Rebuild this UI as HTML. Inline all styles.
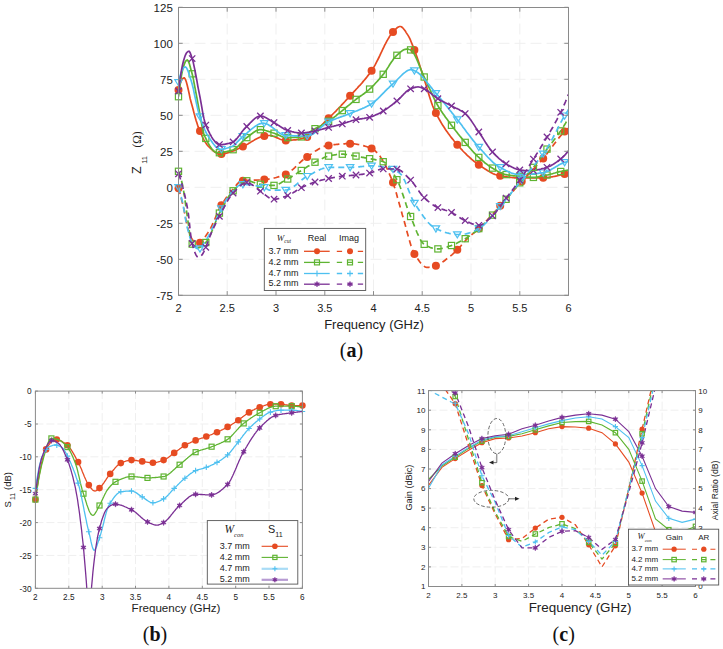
<!DOCTYPE html>
<html><head><meta charset="utf-8"><title>Figure</title>
<style>html,body{margin:0;padding:0;background:#fff;}svg{display:block;}</style>
</head><body>
<svg width="723" height="649" viewBox="0 0 723 649">
<defs>
<clipPath id="clipa"><rect x="178.5" y="7.5" width="390.0" height="287.8"/></clipPath>
<clipPath id="clipb"><rect x="35.4" y="391.1" width="267.0" height="197.19999999999993"/></clipPath>
<clipPath id="clipc"><rect x="428.5" y="390.6" width="267.0" height="195.89999999999998"/></clipPath>
</defs>
<g id="pa">
<line x1="227.2" y1="7.5" x2="227.2" y2="295.3" stroke="#efefef" stroke-width="1" stroke-dasharray="11,5"/>
<line x1="276" y1="7.5" x2="276" y2="295.3" stroke="#efefef" stroke-width="1" stroke-dasharray="11,5"/>
<line x1="324.8" y1="7.5" x2="324.8" y2="295.3" stroke="#efefef" stroke-width="1" stroke-dasharray="11,5"/>
<line x1="373.5" y1="7.5" x2="373.5" y2="295.3" stroke="#efefef" stroke-width="1" stroke-dasharray="11,5"/>
<line x1="422.2" y1="7.5" x2="422.2" y2="295.3" stroke="#efefef" stroke-width="1" stroke-dasharray="11,5"/>
<line x1="471" y1="7.5" x2="471" y2="295.3" stroke="#efefef" stroke-width="1" stroke-dasharray="11,5"/>
<line x1="519.8" y1="7.5" x2="519.8" y2="295.3" stroke="#efefef" stroke-width="1" stroke-dasharray="11,5"/>
<line x1="178.5" y1="43.3" x2="568.5" y2="43.3" stroke="#efefef" stroke-width="1" stroke-dasharray="11,5"/>
<line x1="178.5" y1="79.3" x2="568.5" y2="79.3" stroke="#efefef" stroke-width="1" stroke-dasharray="11,5"/>
<line x1="178.5" y1="115.3" x2="568.5" y2="115.3" stroke="#efefef" stroke-width="1" stroke-dasharray="11,5"/>
<line x1="178.5" y1="151.3" x2="568.5" y2="151.3" stroke="#efefef" stroke-width="1" stroke-dasharray="11,5"/>
<line x1="178.5" y1="187.3" x2="568.5" y2="187.3" stroke="#efefef" stroke-width="1" stroke-dasharray="11,5"/>
<line x1="178.5" y1="223.3" x2="568.5" y2="223.3" stroke="#efefef" stroke-width="1" stroke-dasharray="11,5"/>
<line x1="178.5" y1="259.3" x2="568.5" y2="259.3" stroke="#efefef" stroke-width="1" stroke-dasharray="11,5"/>
<path clip-path="url(#clipa)" d="M178.5,90.1 L179.5,86 L180.5,82.8 L181.4,80.5 L182.4,78.9 L183.4,78.1 L184.4,77.9 L185.3,79.1 L186.3,81.8 L187.3,85.5 L188.3,89.8 L189.3,94.3 L190.2,98.7 L191.2,102.5 L192.2,106 L193.2,109.7 L194.1,113.4 L195.1,117 L196.1,120.5 L197.1,123.6 L198,126.4 L199,128.9 L200,131.3 L201,133.6 L202,135.8 L202.9,137.9 L203.9,139.8 L204.9,141.6 L205.9,143.1 L206.8,144.5 L207.8,145.6 L208.8,146.6 L209.8,147.6 L210.8,148.6 L211.7,149.5 L212.7,150.4 L213.7,151.2 L214.7,151.9 L215.6,152.6 L216.6,153.1 L217.6,153.6 L218.6,153.9 L219.6,154.1 L220.5,154.2 L221.5,154.1 L222.5,154 L223.5,153.9 L224.4,153.7 L225.4,153.4 L226.4,153.2 L227.4,152.9 L228.3,152.6 L229.3,152.2 L230.3,151.9 L231.3,151.6 L232.3,151.3 L233.2,150.9 L234.2,150.6 L235.2,150.1 L236.2,149.7 L237.1,149.3 L238.1,148.8 L239.1,148.3 L240.1,147.9 L241.1,147.4 L242,146.9 L243,146.5 L244,146 L245,145.5 L245.9,145 L246.9,144.4 L247.9,143.9 L248.9,143.3 L249.9,142.7 L250.8,142.1 L251.8,141.5 L252.8,141 L253.8,140.4 L254.7,139.8 L255.7,139.3 L256.7,138.8 L257.7,138.3 L258.7,137.8 L259.6,137.4 L260.6,137 L261.6,136.7 L262.6,136.4 L263.5,136.2 L264.5,136 L265.5,135.8 L266.5,135.7 L267.4,135.6 L268.4,135.5 L269.4,135.5 L270.4,135.5 L271.4,135.7 L272.3,135.9 L273.3,136.3 L274.3,136.6 L275.3,137 L276.2,137.4 L277.2,137.9 L278.2,138.3 L279.2,138.8 L280.2,139.2 L281.1,139.5 L282.1,139.8 L283.1,140.1 L284.1,140.3 L285,140.4 L286,140.4 L287,140.3 L288,140.3 L289,140.3 L289.9,140.2 L290.9,140.2 L291.9,140.1 L292.9,140 L293.8,139.9 L294.8,139.8 L295.8,139.8 L296.8,139.6 L297.7,139.5 L298.7,139.3 L299.7,139.1 L300.7,138.9 L301.7,138.7 L302.6,138.4 L303.6,138.1 L304.6,137.8 L305.6,137.5 L306.5,137.2 L307.5,136.8 L308.5,136.4 L309.5,135.9 L310.5,135.3 L311.4,134.6 L312.4,133.9 L313.4,133.2 L314.4,132.4 L315.3,131.5 L316.3,130.6 L317.3,129.7 L318.3,128.7 L319.3,127.8 L320.2,126.8 L321.2,125.8 L322.2,124.7 L323.2,123.7 L324.1,122.7 L325.1,121.7 L326.1,120.7 L327.1,119.7 L328,118.8 L329,117.8 L330,116.9 L331,115.9 L332,115 L332.9,114 L333.9,113 L334.9,112 L335.9,111.1 L336.8,110 L337.8,109 L338.8,108 L339.8,107 L340.8,106 L341.7,104.9 L342.7,103.9 L343.7,102.8 L344.7,101.8 L345.6,100.7 L346.6,99.6 L347.6,98.6 L348.6,97.5 L349.6,96.4 L350.5,95.4 L351.5,94.3 L352.5,93.2 L353.5,92.2 L354.4,91.1 L355.4,90.1 L356.4,89 L357.4,88 L358.3,86.9 L359.3,85.8 L360.3,84.8 L361.3,83.7 L362.3,82.6 L363.2,81.4 L364.2,80.3 L365.2,79.1 L366.2,77.9 L367.1,76.7 L368.1,75.4 L369.1,74.2 L370.1,72.9 L371.1,71.5 L372,70.1 L373,68.6 L374,66.9 L375,65.2 L375.9,63.4 L376.9,61.4 L377.9,59.5 L378.9,57.5 L379.9,55.4 L380.8,53.3 L381.8,51.3 L382.8,49.2 L383.8,47.2 L384.7,45.2 L385.7,43.3 L386.7,41.4 L387.7,39.6 L388.7,38 L389.6,36.4 L390.6,34.9 L391.6,33.7 L392.6,32.5 L393.5,31.5 L394.5,30.4 L395.5,29.3 L396.5,28.3 L397.4,27.5 L398.4,26.9 L399.4,26.5 L400.4,26.5 L401.4,26.8 L402.3,27.5 L403.3,28.5 L404.3,29.8 L405.3,31.1 L406.2,32.6 L407.2,34.1 L408.2,35.6 L409.2,37.4 L410.2,39.4 L411.1,41.7 L412.1,44.1 L413.1,46.6 L414.1,49.1 L415,51.6 L416,54.3 L417,57.1 L418,60 L419,63 L419.9,66 L420.9,69.1 L421.9,72.1 L422.9,75.2 L423.8,78.2 L424.8,81.2 L425.8,84.3 L426.8,87.5 L427.7,90.8 L428.7,94.1 L429.7,97.2 L430.7,100.3 L431.7,103.2 L432.6,105.8 L433.6,108.2 L434.6,110.3 L435.6,112.3 L436.5,114.3 L437.5,116.2 L438.5,118 L439.5,119.8 L440.5,121.5 L441.4,123.1 L442.4,124.8 L443.4,126.3 L444.4,127.8 L445.3,129.3 L446.3,130.7 L447.3,132.1 L448.3,133.5 L449.3,134.8 L450.2,136.1 L451.2,137.4 L452.2,138.6 L453.2,139.8 L454.1,141 L455.1,142.2 L456.1,143.3 L457.1,144.5 L458,145.6 L459,146.7 L460,147.8 L461,148.9 L462,149.9 L462.9,151 L463.9,152 L464.9,153 L465.9,153.9 L466.8,154.9 L467.8,155.8 L468.8,156.7 L469.8,157.6 L470.8,158.5 L471.7,159.3 L472.7,160.2 L473.7,161 L474.7,161.7 L475.6,162.5 L476.6,163.2 L477.6,163.9 L478.6,164.6 L479.6,165.3 L480.5,165.9 L481.5,166.6 L482.5,167.3 L483.5,167.9 L484.4,168.6 L485.4,169.2 L486.4,169.8 L487.4,170.5 L488.3,171.1 L489.3,171.6 L490.3,172.2 L491.3,172.7 L492.3,173.2 L493.2,173.7 L494.2,174.1 L495.2,174.5 L496.2,174.8 L497.1,175.1 L498.1,175.4 L499.1,175.6 L500.1,175.8 L501.1,176 L502,176.1 L503,176.3 L504,176.5 L505,176.6 L505.9,176.8 L506.9,176.9 L507.9,177.1 L508.9,177.2 L509.9,177.3 L510.8,177.4 L511.8,177.5 L512.8,177.6 L513.8,177.7 L514.7,177.8 L515.7,177.8 L516.7,177.9 L517.7,177.9 L518.7,177.9 L519.6,177.9 L520.6,177.9 L521.6,177.9 L522.6,177.9 L523.5,177.9 L524.5,177.9 L525.5,177.9 L526.5,177.9 L527.4,177.9 L528.4,177.9 L529.4,177.9 L530.4,177.9 L531.4,177.9 L532.3,177.9 L533.3,177.9 L534.3,177.9 L535.3,177.9 L536.2,177.9 L537.2,177.9 L538.2,177.8 L539.2,177.8 L540.2,177.8 L541.1,177.8 L542.1,177.8 L543.1,177.8 L544.1,177.8 L545,177.7 L546,177.6 L547,177.5 L548,177.4 L549,177.3 L549.9,177.2 L550.9,177 L551.9,176.8 L552.9,176.7 L553.8,176.5 L554.8,176.3 L555.8,176.1 L556.8,175.9 L557.7,175.6 L558.7,175.4 L559.7,175.2 L560.7,175 L561.7,174.7 L562.6,174.5 L563.6,174.3 L564.6,174 L565.6,173.8 L566.5,173.5 L567.5,173.2 L568.5,172.9" fill="none" stroke="#E64B22" stroke-width="1.7"/>
<circle cx="178.5" cy="90.1" r="4" fill="#E64B22" stroke="none"/>
<circle cx="200" cy="131.1" r="4" fill="#E64B22" stroke="none"/>
<circle cx="221.4" cy="154.1" r="4" fill="#E64B22" stroke="none"/>
<circle cx="242.9" cy="146.5" r="4" fill="#E64B22" stroke="none"/>
<circle cx="264.3" cy="136" r="4" fill="#E64B22" stroke="none"/>
<circle cx="285.8" cy="140.4" r="4" fill="#E64B22" stroke="none"/>
<circle cx="307.2" cy="136.9" r="4" fill="#E64B22" stroke="none"/>
<circle cx="328.6" cy="118.2" r="4" fill="#E64B22" stroke="none"/>
<circle cx="350.1" cy="95.8" r="4" fill="#E64B22" stroke="none"/>
<circle cx="371.6" cy="70.8" r="4" fill="#E64B22" stroke="none"/>
<circle cx="393" cy="32" r="4" fill="#E64B22" stroke="none"/>
<circle cx="414.4" cy="50.1" r="4" fill="#E64B22" stroke="none"/>
<circle cx="435.9" cy="113" r="4" fill="#E64B22" stroke="none"/>
<circle cx="457.3" cy="144.8" r="4" fill="#E64B22" stroke="none"/>
<circle cx="478.8" cy="164.7" r="4" fill="#E64B22" stroke="none"/>
<circle cx="500.2" cy="175.8" r="4" fill="#E64B22" stroke="none"/>
<circle cx="521.7" cy="177.9" r="4" fill="#E64B22" stroke="none"/>
<circle cx="543.2" cy="177.8" r="4" fill="#E64B22" stroke="none"/>
<circle cx="564.6" cy="174" r="4" fill="#E64B22" stroke="none"/>
<path clip-path="url(#clipa)" d="M178.5,96.7 L179.5,88.7 L180.5,81.7 L181.4,75.8 L182.4,70.9 L183.4,66.9 L184.4,63.9 L185.3,61.8 L186.3,60.5 L187.3,60.1 L188.3,61.1 L189.3,63.6 L190.2,66.8 L191.2,70.4 L192.2,74 L193.2,78.2 L194.1,83.1 L195.1,88.3 L196.1,93.7 L197.1,99 L198,104 L199,109.2 L200,114.8 L201,120.5 L202,125.8 L202.9,130.5 L203.9,134.1 L204.9,136.5 L205.9,138.6 L206.8,140.6 L207.8,142.5 L208.8,144.3 L209.8,145.9 L210.8,147.4 L211.7,148.8 L212.7,150 L213.7,150.9 L214.7,151.7 L215.6,152.3 L216.6,152.6 L217.6,152.7 L218.6,152.7 L219.6,152.7 L220.5,152.6 L221.5,152.5 L222.5,152.4 L223.5,152.2 L224.4,152 L225.4,151.8 L226.4,151.6 L227.4,151.4 L228.3,151.1 L229.3,150.9 L230.3,150.6 L231.3,150.3 L232.3,150 L233.2,149.7 L234.2,149.2 L235.2,148.6 L236.2,147.8 L237.1,147 L238.1,146.1 L239.1,145.1 L240.1,144 L241.1,143 L242,142 L243,140.9 L244,140 L245,139 L245.9,138.2 L246.9,137.5 L247.9,136.8 L248.9,136 L249.9,135.3 L250.8,134.5 L251.8,133.8 L252.8,133 L253.8,132.3 L254.7,131.7 L255.7,131.1 L256.7,130.6 L257.7,130.2 L258.7,129.9 L259.6,129.7 L260.6,129.7 L261.6,129.7 L262.6,129.9 L263.5,130 L264.5,130.2 L265.5,130.5 L266.5,130.7 L267.4,131.1 L268.4,131.4 L269.4,131.7 L270.4,132 L271.4,132.4 L272.3,132.7 L273.3,133 L274.3,133.3 L275.3,133.7 L276.2,134.1 L277.2,134.5 L278.2,134.9 L279.2,135.4 L280.2,135.8 L281.1,136.3 L282.1,136.6 L283.1,137 L284.1,137.3 L285,137.5 L286,137.6 L287,137.6 L288,137.6 L289,137.6 L289.9,137.6 L290.9,137.6 L291.9,137.5 L292.9,137.5 L293.8,137.5 L294.8,137.4 L295.8,137.4 L296.8,137.3 L297.7,137.2 L298.7,137.2 L299.7,137.1 L300.7,137 L301.7,136.8 L302.6,136.5 L303.6,136.1 L304.6,135.6 L305.6,135.1 L306.5,134.4 L307.5,133.8 L308.5,133.1 L309.5,132.3 L310.5,131.6 L311.4,130.9 L312.4,130.3 L313.4,129.6 L314.4,129.1 L315.3,128.5 L316.3,128 L317.3,127.5 L318.3,127 L319.3,126.5 L320.2,126 L321.2,125.5 L322.2,124.9 L323.2,124.4 L324.1,123.9 L325.1,123.3 L326.1,122.8 L327.1,122.2 L328,121.6 L329,121 L330,120.3 L331,119.6 L332,118.9 L332.9,118.2 L333.9,117.4 L334.9,116.6 L335.9,115.8 L336.8,115 L337.8,114.2 L338.8,113.4 L339.8,112.6 L340.8,111.8 L341.7,111.1 L342.7,110.3 L343.7,109.5 L344.7,108.7 L345.6,107.9 L346.6,107 L347.6,106.2 L348.6,105.4 L349.6,104.6 L350.5,103.8 L351.5,102.9 L352.5,102.1 L353.5,101.3 L354.4,100.6 L355.4,99.8 L356.4,99 L357.4,98.3 L358.3,97.6 L359.3,96.9 L360.3,96.2 L361.3,95.5 L362.3,94.9 L363.2,94.2 L364.2,93.5 L365.2,92.7 L366.2,92 L367.1,91.2 L368.1,90.4 L369.1,89.6 L370.1,88.7 L371.1,87.8 L372,86.8 L373,85.9 L374,84.9 L375,83.8 L375.9,82.8 L376.9,81.7 L377.9,80.6 L378.9,79.5 L379.9,78.4 L380.8,77.2 L381.8,76.1 L382.8,74.9 L383.8,73.7 L384.7,72.3 L385.7,70.9 L386.7,69.5 L387.7,67.9 L388.7,66.4 L389.6,64.8 L390.6,63.3 L391.6,61.8 L392.6,60.4 L393.5,59 L394.5,57.8 L395.5,56.6 L396.5,55.6 L397.4,54.8 L398.4,53.9 L399.4,53.1 L400.4,52.2 L401.4,51.4 L402.3,50.7 L403.3,50.1 L404.3,49.6 L405.3,49.3 L406.2,49.1 L407.2,49.1 L408.2,49.2 L409.2,49.5 L410.2,49.7 L411.1,50.2 L412.1,51.1 L413.1,52.3 L414.1,53.9 L415,55.7 L416,57.7 L417,59.9 L418,62.2 L419,64.6 L419.9,67 L420.9,69.4 L421.9,71.8 L422.9,74.1 L423.8,76.2 L424.8,78.3 L425.8,80.3 L426.8,82.4 L427.7,84.6 L428.7,86.8 L429.7,89 L430.7,91.1 L431.7,93.3 L432.6,95.4 L433.6,97.5 L434.6,99.5 L435.6,101.5 L436.5,103.3 L437.5,105 L438.5,106.7 L439.5,108.3 L440.5,109.8 L441.4,111.3 L442.4,112.8 L443.4,114.2 L444.4,115.6 L445.3,117 L446.3,118.3 L447.3,119.6 L448.3,120.9 L449.3,122.3 L450.2,123.6 L451.2,124.9 L452.2,126.2 L453.2,127.5 L454.1,128.8 L455.1,130 L456.1,131.3 L457.1,132.5 L458,133.8 L459,135 L460,136.2 L461,137.4 L462,138.6 L462.9,139.7 L463.9,140.9 L464.9,142.1 L465.9,143.2 L466.8,144.4 L467.8,145.6 L468.8,146.7 L469.8,147.9 L470.8,149 L471.7,150.1 L472.7,151.2 L473.7,152.3 L474.7,153.3 L475.6,154.3 L476.6,155.3 L477.6,156.3 L478.6,157.2 L479.6,158.1 L480.5,159 L481.5,159.8 L482.5,160.7 L483.5,161.5 L484.4,162.4 L485.4,163.2 L486.4,163.9 L487.4,164.7 L488.3,165.4 L489.3,166.1 L490.3,166.8 L491.3,167.4 L492.3,168 L493.2,168.6 L494.2,169.2 L495.2,169.8 L496.2,170.3 L497.1,170.9 L498.1,171.5 L499.1,172 L500.1,172.5 L501.1,172.9 L502,173.3 L503,173.7 L504,174.1 L505,174.4 L505.9,174.6 L506.9,174.8 L507.9,175 L508.9,175.1 L509.9,175.3 L510.8,175.4 L511.8,175.5 L512.8,175.7 L513.8,175.8 L514.7,175.9 L515.7,176 L516.7,176.1 L517.7,176.2 L518.7,176.3 L519.6,176.3 L520.6,176.4 L521.6,176.5 L522.6,176.6 L523.5,176.7 L524.5,176.8 L525.5,176.9 L526.5,177 L527.4,177.1 L528.4,177.2 L529.4,177.2 L530.4,177.3 L531.4,177.3 L532.3,177.4 L533.3,177.4 L534.3,177.3 L535.3,177.3 L536.2,177.2 L537.2,177.1 L538.2,176.9 L539.2,176.7 L540.2,176.5 L541.1,176.3 L542.1,176.1 L543.1,175.9 L544.1,175.6 L545,175.4 L546,175.2 L547,175 L548,174.8 L549,174.5 L549.9,174.3 L550.9,174 L551.9,173.8 L552.9,173.5 L553.8,173.2 L554.8,173 L555.8,172.7 L556.8,172.4 L557.7,172.2 L558.7,171.9 L559.7,171.7 L560.7,171.5 L561.7,171.3 L562.6,171.1 L563.6,170.9 L564.6,170.7 L565.6,170.5 L566.5,170.3 L567.5,170.2 L568.5,170" fill="none" stroke="#5FB432" stroke-width="1.7"/>
<rect x="175.4" y="93.6" width="6.2" height="6.2" fill="none" stroke="#5FB432" stroke-width="1.2"/>
<rect x="189.1" y="70.7" width="6.2" height="6.2" fill="none" stroke="#5FB432" stroke-width="1.2"/>
<rect x="202.7" y="135.3" width="6.2" height="6.2" fill="none" stroke="#5FB432" stroke-width="1.2"/>
<rect x="216.3" y="149.6" width="6.2" height="6.2" fill="none" stroke="#5FB432" stroke-width="1.2"/>
<rect x="230" y="146.6" width="6.2" height="6.2" fill="none" stroke="#5FB432" stroke-width="1.2"/>
<rect x="243.7" y="134.5" width="6.2" height="6.2" fill="none" stroke="#5FB432" stroke-width="1.2"/>
<rect x="257.3" y="126.6" width="6.2" height="6.2" fill="none" stroke="#5FB432" stroke-width="1.2"/>
<rect x="270.9" y="130.1" width="6.2" height="6.2" fill="none" stroke="#5FB432" stroke-width="1.2"/>
<rect x="284.6" y="134.5" width="6.2" height="6.2" fill="none" stroke="#5FB432" stroke-width="1.2"/>
<rect x="298.2" y="133.8" width="6.2" height="6.2" fill="none" stroke="#5FB432" stroke-width="1.2"/>
<rect x="311.9" y="125.6" width="6.2" height="6.2" fill="none" stroke="#5FB432" stroke-width="1.2"/>
<rect x="325.5" y="118.1" width="6.2" height="6.2" fill="none" stroke="#5FB432" stroke-width="1.2"/>
<rect x="339.2" y="107.5" width="6.2" height="6.2" fill="none" stroke="#5FB432" stroke-width="1.2"/>
<rect x="352.9" y="96.3" width="6.2" height="6.2" fill="none" stroke="#5FB432" stroke-width="1.2"/>
<rect x="366.5" y="86" width="6.2" height="6.2" fill="none" stroke="#5FB432" stroke-width="1.2"/>
<rect x="380.1" y="71.2" width="6.2" height="6.2" fill="none" stroke="#5FB432" stroke-width="1.2"/>
<rect x="393.8" y="52.2" width="6.2" height="6.2" fill="none" stroke="#5FB432" stroke-width="1.2"/>
<rect x="407.5" y="46.8" width="6.2" height="6.2" fill="none" stroke="#5FB432" stroke-width="1.2"/>
<rect x="421.1" y="73.9" width="6.2" height="6.2" fill="none" stroke="#5FB432" stroke-width="1.2"/>
<rect x="434.8" y="102.5" width="6.2" height="6.2" fill="none" stroke="#5FB432" stroke-width="1.2"/>
<rect x="448.4" y="122.2" width="6.2" height="6.2" fill="none" stroke="#5FB432" stroke-width="1.2"/>
<rect x="462.1" y="139.3" width="6.2" height="6.2" fill="none" stroke="#5FB432" stroke-width="1.2"/>
<rect x="475.7" y="154.3" width="6.2" height="6.2" fill="none" stroke="#5FB432" stroke-width="1.2"/>
<rect x="489.4" y="165" width="6.2" height="6.2" fill="none" stroke="#5FB432" stroke-width="1.2"/>
<rect x="503" y="171.5" width="6.2" height="6.2" fill="none" stroke="#5FB432" stroke-width="1.2"/>
<rect x="516.6" y="173.3" width="6.2" height="6.2" fill="none" stroke="#5FB432" stroke-width="1.2"/>
<rect x="530.3" y="174.3" width="6.2" height="6.2" fill="none" stroke="#5FB432" stroke-width="1.2"/>
<rect x="543.9" y="171.9" width="6.2" height="6.2" fill="none" stroke="#5FB432" stroke-width="1.2"/>
<rect x="557.6" y="168.4" width="6.2" height="6.2" fill="none" stroke="#5FB432" stroke-width="1.2"/>
<path clip-path="url(#clipa)" d="M178.5,82.5 L179.5,78.2 L180.5,74.6 L181.4,71.8 L182.4,69.6 L183.4,68.1 L184.4,67.2 L185.3,66.9 L186.3,67.6 L187.3,69.3 L188.3,71.7 L189.3,74.7 L190.2,77.8 L191.2,80.8 L192.2,84.2 L193.2,88.2 L194.1,92.6 L195.1,97.2 L196.1,101.8 L197.1,106.3 L198,110.3 L199,113.7 L200,116.8 L201,119.7 L202,122.5 L202.9,125.2 L203.9,127.6 L204.9,130 L205.9,132.1 L206.8,133.9 L207.8,135.6 L208.8,137.1 L209.8,138.6 L210.8,140.1 L211.7,141.6 L212.7,143 L213.7,144.3 L214.7,145.5 L215.6,146.6 L216.6,147.5 L217.6,148.3 L218.6,148.8 L219.6,149.2 L220.5,149.3 L221.5,149.2 L222.5,149.2 L223.5,149 L224.4,148.8 L225.4,148.6 L226.4,148.3 L227.4,148 L228.3,147.7 L229.3,147.4 L230.3,147 L231.3,146.6 L232.3,146.2 L233.2,145.7 L234.2,145 L235.2,144.2 L236.2,143.2 L237.1,142.2 L238.1,141.2 L239.1,140.1 L240.1,139.1 L241.1,138.1 L242,137.1 L243,136.3 L244,135.6 L245,134.8 L245.9,133.9 L246.9,133.1 L247.9,132.2 L248.9,131.4 L249.9,130.5 L250.8,129.7 L251.8,128.9 L252.8,128.1 L253.8,127.4 L254.7,126.6 L255.7,126 L256.7,125.4 L257.7,124.8 L258.7,124.3 L259.6,123.9 L260.6,123.6 L261.6,123.4 L262.6,123.3 L263.5,123.2 L264.5,123.3 L265.5,123.5 L266.5,123.9 L267.4,124.3 L268.4,124.8 L269.4,125.4 L270.4,126 L271.4,126.7 L272.3,127.4 L273.3,128.2 L274.3,129 L275.3,129.8 L276.2,130.6 L277.2,131.3 L278.2,132.1 L279.2,132.8 L280.2,133.4 L281.1,134 L282.1,134.5 L283.1,134.9 L284.1,135.2 L285,135.4 L286,135.5 L287,135.5 L288,135.6 L289,135.6 L289.9,135.7 L290.9,135.7 L291.9,135.7 L292.9,135.8 L293.8,135.8 L294.8,135.8 L295.8,135.9 L296.8,135.9 L297.7,135.9 L298.7,135.9 L299.7,136 L300.7,136 L301.7,136 L302.6,136 L303.6,136 L304.6,136 L305.6,136 L306.5,136 L307.5,136 L308.5,135.9 L309.5,135.6 L310.5,135.3 L311.4,134.8 L312.4,134.3 L313.4,133.7 L314.4,133 L315.3,132.2 L316.3,131.5 L317.3,130.6 L318.3,129.8 L319.3,128.9 L320.2,128.1 L321.2,127.2 L322.2,126.4 L323.2,125.5 L324.1,124.7 L325.1,124 L326.1,123.3 L327.1,122.7 L328,122.1 L329,121.6 L330,121.1 L331,120.7 L332,120.3 L332.9,119.9 L333.9,119.5 L334.9,119.1 L335.9,118.7 L336.8,118.3 L337.8,118 L338.8,117.6 L339.8,117.3 L340.8,116.9 L341.7,116.6 L342.7,116.3 L343.7,115.9 L344.7,115.6 L345.6,115.2 L346.6,114.8 L347.6,114.5 L348.6,114.1 L349.6,113.7 L350.5,113.3 L351.5,112.9 L352.5,112.5 L353.5,112.1 L354.4,111.7 L355.4,111.3 L356.4,111 L357.4,110.6 L358.3,110.2 L359.3,109.8 L360.3,109.4 L361.3,109 L362.3,108.6 L363.2,108.1 L364.2,107.7 L365.2,107.2 L366.2,106.7 L367.1,106.3 L368.1,105.7 L369.1,105.2 L370.1,104.6 L371.1,104.1 L372,103.4 L373,102.7 L374,102 L375,101.2 L375.9,100.3 L376.9,99.5 L377.9,98.6 L378.9,97.6 L379.9,96.7 L380.8,95.7 L381.8,94.7 L382.8,93.7 L383.8,92.7 L384.7,91.7 L385.7,90.7 L386.7,89.7 L387.7,88.7 L388.7,87.8 L389.6,86.8 L390.6,85.9 L391.6,85 L392.6,84.2 L393.5,83.3 L394.5,82.4 L395.5,81.5 L396.5,80.5 L397.4,79.5 L398.4,78.5 L399.4,77.5 L400.4,76.5 L401.4,75.5 L402.3,74.6 L403.3,73.7 L404.3,72.8 L405.3,72.1 L406.2,71.4 L407.2,70.8 L408.2,70.3 L409.2,70 L410.2,69.7 L411.1,69.7 L412.1,69.8 L413.1,70.1 L414.1,70.5 L415,70.9 L416,71.5 L417,72.1 L418,72.8 L419,73.6 L419.9,74.4 L420.9,75.3 L421.9,76.3 L422.9,77.4 L423.8,78.5 L424.8,79.6 L425.8,80.8 L426.8,81.9 L427.7,83.2 L428.7,84.4 L429.7,85.6 L430.7,86.9 L431.7,88.1 L432.6,89.3 L433.6,90.5 L434.6,91.7 L435.6,92.9 L436.5,94 L437.5,95.1 L438.5,96.3 L439.5,97.4 L440.5,98.6 L441.4,99.7 L442.4,100.9 L443.4,102.1 L444.4,103.3 L445.3,104.5 L446.3,105.7 L447.3,106.9 L448.3,108.1 L449.3,109.4 L450.2,110.6 L451.2,111.8 L452.2,113.1 L453.2,114.3 L454.1,115.5 L455.1,116.8 L456.1,118 L457.1,119.2 L458,120.5 L459,121.7 L460,123 L461,124.3 L462,125.6 L462.9,126.9 L463.9,128.2 L464.9,129.5 L465.9,130.9 L466.8,132.2 L467.8,133.5 L468.8,134.8 L469.8,136.1 L470.8,137.4 L471.7,138.6 L472.7,139.9 L473.7,141.1 L474.7,142.3 L475.6,143.5 L476.6,144.6 L477.6,145.7 L478.6,146.8 L479.6,147.9 L480.5,149 L481.5,150.1 L482.5,151.2 L483.5,152.3 L484.4,153.4 L485.4,154.5 L486.4,155.6 L487.4,156.7 L488.3,157.7 L489.3,158.7 L490.3,159.7 L491.3,160.7 L492.3,161.6 L493.2,162.5 L494.2,163.3 L495.2,164.1 L496.2,164.9 L497.1,165.5 L498.1,166.2 L499.1,166.8 L500.1,167.3 L501.1,167.8 L502,168.4 L503,168.9 L504,169.4 L505,169.9 L505.9,170.4 L506.9,170.9 L507.9,171.4 L508.9,171.9 L509.9,172.3 L510.8,172.7 L511.8,173.1 L512.8,173.4 L513.8,173.7 L514.7,174 L515.7,174.2 L516.7,174.4 L517.7,174.5 L518.7,174.6 L519.6,174.6 L520.6,174.6 L521.6,174.6 L522.6,174.6 L523.5,174.6 L524.5,174.5 L525.5,174.5 L526.5,174.4 L527.4,174.4 L528.4,174.3 L529.4,174.2 L530.4,174.2 L531.4,174.1 L532.3,174 L533.3,173.9 L534.3,173.8 L535.3,173.7 L536.2,173.6 L537.2,173.5 L538.2,173.3 L539.2,173.2 L540.2,173.1 L541.1,173 L542.1,172.8 L543.1,172.7 L544.1,172.5 L545,172.2 L546,171.9 L547,171.5 L548,171.1 L549,170.7 L549.9,170.2 L550.9,169.7 L551.9,169.1 L552.9,168.6 L553.8,168 L554.8,167.4 L555.8,166.8 L556.8,166.2 L557.7,165.7 L558.7,165.1 L559.7,164.6 L560.7,164.1 L561.7,163.6 L562.6,163.2 L563.6,162.8 L564.6,162.4 L565.6,162.1 L566.5,161.8 L567.5,161.6 L568.5,161.4" fill="none" stroke="#4EC0F0" stroke-width="1.7"/>
<path d="M174.8,79.7 L182.2,79.7 L178.5,85.9Z" fill="none" stroke="#4EC0F0" stroke-width="1.2"/>
<path d="M196.2,113.9 L203.7,113.9 L200,120Z" fill="none" stroke="#4EC0F0" stroke-width="1.2"/>
<path d="M217.7,146.5 L225.1,146.5 L221.4,152.7Z" fill="none" stroke="#4EC0F0" stroke-width="1.2"/>
<path d="M239.1,133.7 L246.6,133.7 L242.9,139.9Z" fill="none" stroke="#4EC0F0" stroke-width="1.2"/>
<path d="M260.6,120.6 L268,120.6 L264.3,126.7Z" fill="none" stroke="#4EC0F0" stroke-width="1.2"/>
<path d="M282,132.7 L289.5,132.7 L285.8,138.9Z" fill="none" stroke="#4EC0F0" stroke-width="1.2"/>
<path d="M303.5,133.3 L310.9,133.3 L307.2,139.4Z" fill="none" stroke="#4EC0F0" stroke-width="1.2"/>
<path d="M324.9,119.1 L332.4,119.1 L328.6,125.2Z" fill="none" stroke="#4EC0F0" stroke-width="1.2"/>
<path d="M346.4,110.7 L353.8,110.7 L350.1,116.9Z" fill="none" stroke="#4EC0F0" stroke-width="1.2"/>
<path d="M367.8,101 L375.3,101 L371.6,107.1Z" fill="none" stroke="#4EC0F0" stroke-width="1.2"/>
<path d="M389.3,81.1 L396.7,81.1 L393,87.2Z" fill="none" stroke="#4EC0F0" stroke-width="1.2"/>
<path d="M410.7,67.9 L418.2,67.9 L414.4,74.1Z" fill="none" stroke="#4EC0F0" stroke-width="1.2"/>
<path d="M432.2,90.6 L439.6,90.6 L435.9,96.7Z" fill="none" stroke="#4EC0F0" stroke-width="1.2"/>
<path d="M453.6,116.9 L461.1,116.9 L457.3,123Z" fill="none" stroke="#4EC0F0" stroke-width="1.2"/>
<path d="M475.1,144.3 L482.5,144.3 L478.8,150.5Z" fill="none" stroke="#4EC0F0" stroke-width="1.2"/>
<path d="M496.5,164.7 L504,164.7 L500.2,170.8Z" fill="none" stroke="#4EC0F0" stroke-width="1.2"/>
<path d="M518,171.9 L525.4,171.9 L521.7,178Z" fill="none" stroke="#4EC0F0" stroke-width="1.2"/>
<path d="M539.4,170 L546.9,170 L543.2,176.1Z" fill="none" stroke="#4EC0F0" stroke-width="1.2"/>
<path d="M560.9,159.7 L568.3,159.7 L564.6,165.8Z" fill="none" stroke="#4EC0F0" stroke-width="1.2"/>
<path clip-path="url(#clipa)" d="M178.5,91.1 L179.5,83.3 L180.5,76.5 L181.4,70.6 L182.4,65.5 L183.4,61.3 L184.4,57.9 L185.3,55.3 L186.3,53.3 L187.3,52 L188.3,51.3 L189.3,51.3 L190.2,52.9 L191.2,55.6 L192.2,58.7 L193.2,62.1 L194.1,66.4 L195.1,71.2 L196.1,76.5 L197.1,81.8 L198,87.1 L199,92.1 L200,97.2 L201,102.7 L202,108.3 L202.9,113.6 L203.9,118.4 L204.9,122.4 L205.9,125.2 L206.8,127.5 L207.8,129.6 L208.8,131.6 L209.8,133.6 L210.8,135.4 L211.7,137.1 L212.7,138.7 L213.7,140.1 L214.7,141.3 L215.6,142.4 L216.6,143.3 L217.6,143.9 L218.6,144.4 L219.6,144.6 L220.5,144.7 L221.5,144.6 L222.5,144.6 L223.5,144.4 L224.4,144.3 L225.4,144.1 L226.4,143.9 L227.4,143.7 L228.3,143.5 L229.3,143.2 L230.3,142.9 L231.3,142.6 L232.3,142.3 L233.2,141.9 L234.2,141.2 L235.2,140.4 L236.2,139.4 L237.1,138.3 L238.1,137 L239.1,135.8 L240.1,134.4 L241.1,133.1 L242,131.8 L243,130.5 L244,129.3 L245,128.2 L245.9,127.2 L246.9,126.3 L247.9,125.3 L248.9,124.4 L249.9,123.3 L250.8,122.3 L251.8,121.3 L252.8,120.4 L253.8,119.5 L254.7,118.6 L255.7,117.9 L256.7,117.2 L257.7,116.7 L258.7,116.3 L259.6,116.1 L260.6,116 L261.6,116.1 L262.6,116.3 L263.5,116.6 L264.5,117 L265.5,117.5 L266.5,118 L267.4,118.6 L268.4,119.2 L269.4,119.8 L270.4,120.4 L271.4,121.1 L272.3,121.7 L273.3,122.2 L274.3,122.8 L275.3,123.3 L276.2,123.9 L277.2,124.5 L278.2,125.2 L279.2,125.8 L280.2,126.5 L281.1,127.1 L282.1,127.7 L283.1,128.3 L284.1,128.9 L285,129.4 L286,129.8 L287,130.2 L288,130.5 L289,130.8 L289.9,131 L290.9,131.3 L291.9,131.6 L292.9,131.8 L293.8,132.1 L294.8,132.3 L295.8,132.5 L296.8,132.6 L297.7,132.8 L298.7,132.9 L299.7,133 L300.7,133 L301.7,133 L302.6,133 L303.6,132.9 L304.6,132.8 L305.6,132.7 L306.5,132.6 L307.5,132.4 L308.5,132.3 L309.5,132.1 L310.5,131.9 L311.4,131.7 L312.4,131.5 L313.4,131.3 L314.4,131.1 L315.3,130.9 L316.3,130.7 L317.3,130.5 L318.3,130.3 L319.3,130 L320.2,129.8 L321.2,129.5 L322.2,129.2 L323.2,128.9 L324.1,128.7 L325.1,128.4 L326.1,128.1 L327.1,127.8 L328,127.6 L329,127.3 L330,127 L331,126.8 L332,126.5 L332.9,126.3 L333.9,126.1 L334.9,125.8 L335.9,125.6 L336.8,125.3 L337.8,125.1 L338.8,124.8 L339.8,124.6 L340.8,124.3 L341.7,124 L342.7,123.7 L343.7,123.4 L344.7,123.1 L345.6,122.8 L346.6,122.5 L347.6,122.1 L348.6,121.8 L349.6,121.5 L350.5,121.2 L351.5,120.8 L352.5,120.5 L353.5,120.3 L354.4,120 L355.4,119.8 L356.4,119.6 L357.4,119.4 L358.3,119.2 L359.3,119.1 L360.3,118.9 L361.3,118.8 L362.3,118.6 L363.2,118.5 L364.2,118.4 L365.2,118.2 L366.2,118 L367.1,117.8 L368.1,117.6 L369.1,117.4 L370.1,117.1 L371.1,116.8 L372,116.5 L373,116.1 L374,115.7 L375,115.3 L375.9,114.8 L376.9,114.4 L377.9,113.9 L378.9,113.4 L379.9,112.9 L380.8,112.4 L381.8,111.8 L382.8,111.3 L383.8,110.7 L384.7,110.1 L385.7,109.5 L386.7,108.8 L387.7,108.1 L388.7,107.4 L389.6,106.7 L390.6,105.9 L391.6,105.2 L392.6,104.4 L393.5,103.6 L394.5,102.8 L395.5,102 L396.5,101.2 L397.4,100.4 L398.4,99.6 L399.4,98.6 L400.4,97.6 L401.4,96.6 L402.3,95.6 L403.3,94.6 L404.3,93.5 L405.3,92.6 L406.2,91.7 L407.2,90.8 L408.2,90.1 L409.2,89.5 L410.2,89 L411.1,88.6 L412.1,88.2 L413.1,87.9 L414.1,87.6 L415,87.3 L416,87.1 L417,87 L418,86.9 L419,87 L419.9,87.2 L420.9,87.5 L421.9,87.9 L422.9,88.3 L423.8,88.7 L424.8,89.1 L425.8,89.6 L426.8,90.2 L427.7,90.8 L428.7,91.6 L429.7,92.3 L430.7,93.2 L431.7,94 L432.6,94.8 L433.6,95.6 L434.6,96.4 L435.6,97.2 L436.5,97.9 L437.5,98.5 L438.5,99.1 L439.5,99.6 L440.5,100.2 L441.4,100.7 L442.4,101.2 L443.4,101.7 L444.4,102.2 L445.3,102.7 L446.3,103.2 L447.3,103.7 L448.3,104.2 L449.3,104.7 L450.2,105.2 L451.2,105.7 L452.2,106.2 L453.2,106.7 L454.1,107.2 L455.1,107.7 L456.1,108.2 L457.1,108.6 L458,109.1 L459,109.6 L460,110.2 L461,110.7 L462,111.3 L462.9,111.9 L463.9,112.6 L464.9,113.4 L465.9,114.2 L466.8,115.1 L467.8,116.2 L468.8,117.4 L469.8,118.7 L470.8,120 L471.7,121.4 L472.7,122.9 L473.7,124.4 L474.7,125.9 L475.6,127.4 L476.6,128.8 L477.6,130.3 L478.6,131.7 L479.6,133.1 L480.5,134.5 L481.5,136 L482.5,137.5 L483.5,139.1 L484.4,140.6 L485.4,142.2 L486.4,143.7 L487.4,145.2 L488.3,146.6 L489.3,148 L490.3,149.3 L491.3,150.5 L492.3,151.7 L493.2,152.7 L494.2,153.8 L495.2,154.8 L496.2,155.8 L497.1,156.7 L498.1,157.7 L499.1,158.6 L500.1,159.4 L501.1,160.2 L502,161 L503,161.8 L504,162.5 L505,163.1 L505.9,163.7 L506.9,164.3 L507.9,164.9 L508.9,165.4 L509.9,166 L510.8,166.5 L511.8,167.1 L512.8,167.5 L513.8,168 L514.7,168.4 L515.7,168.8 L516.7,169.2 L517.7,169.4 L518.7,169.7 L519.6,169.9 L520.6,170 L521.6,170.1 L522.6,170.3 L523.5,170.4 L524.5,170.5 L525.5,170.6 L526.5,170.6 L527.4,170.7 L528.4,170.7 L529.4,170.7 L530.4,170.7 L531.4,170.7 L532.3,170.6 L533.3,170.5 L534.3,170.4 L535.3,170.3 L536.2,170.1 L537.2,169.9 L538.2,169.7 L539.2,169.5 L540.2,169.2 L541.1,169 L542.1,168.7 L543.1,168.5 L544.1,168.2 L545,167.9 L546,167.6 L547,167.3 L548,167 L549,166.6 L549.9,166.1 L550.9,165.7 L551.9,165.1 L552.9,164.5 L553.8,163.9 L554.8,163.3 L555.8,162.6 L556.8,161.9 L557.7,161.2 L558.7,160.5 L559.7,159.7 L560.7,158.9 L561.7,158.1 L562.6,157.3 L563.6,156.3 L564.6,155.3 L565.6,154.2 L566.5,153.1 L567.5,152 L568.5,150.9" fill="none" stroke="#7A2F94" stroke-width="1.7"/>
<path d="M175.3,87.9 L181.7,94.3 M175.3,94.3 L181.7,87.9" stroke="#7A2F94" stroke-width="1.3" fill="none"/>
<path d="M189,55.4 L195.3,61.8 M189,61.8 L195.3,55.4" stroke="#7A2F94" stroke-width="1.3" fill="none"/>
<path d="M202.6,121.9 L209,128.3 M202.6,128.3 L209,121.9" stroke="#7A2F94" stroke-width="1.3" fill="none"/>
<path d="M216.2,141.4 L222.6,147.8 M216.2,147.8 L222.6,141.4" stroke="#7A2F94" stroke-width="1.3" fill="none"/>
<path d="M229.9,138.7 L236.3,145.1 M229.9,145.1 L236.3,138.7" stroke="#7A2F94" stroke-width="1.3" fill="none"/>
<path d="M243.6,123.3 L249.9,129.7 M243.6,129.7 L249.9,123.3" stroke="#7A2F94" stroke-width="1.3" fill="none"/>
<path d="M257.2,112.8 L263.6,119.2 M257.2,119.2 L263.6,112.8" stroke="#7A2F94" stroke-width="1.3" fill="none"/>
<path d="M270.9,119.4 L277.2,125.8 M270.9,125.8 L277.2,119.4" stroke="#7A2F94" stroke-width="1.3" fill="none"/>
<path d="M284.5,127.2 L290.9,133.6 M284.5,133.6 L290.9,127.2" stroke="#7A2F94" stroke-width="1.3" fill="none"/>
<path d="M298.2,129.8 L304.6,136.2 M298.2,136.2 L304.6,129.8" stroke="#7A2F94" stroke-width="1.3" fill="none"/>
<path d="M311.8,127.8 L318.2,134.2 M311.8,134.2 L318.2,127.8" stroke="#7A2F94" stroke-width="1.3" fill="none"/>
<path d="M325.4,124.2 L331.8,130.6 M325.4,130.6 L331.8,124.2" stroke="#7A2F94" stroke-width="1.3" fill="none"/>
<path d="M339.1,120.7 L345.5,127.1 M339.1,127.1 L345.5,120.7" stroke="#7A2F94" stroke-width="1.3" fill="none"/>
<path d="M352.8,116.5 L359.2,122.9 M352.8,122.9 L359.2,116.5" stroke="#7A2F94" stroke-width="1.3" fill="none"/>
<path d="M366.4,114.1 L372.8,120.5 M366.4,120.5 L372.8,114.1" stroke="#7A2F94" stroke-width="1.3" fill="none"/>
<path d="M380.1,107.8 L386.4,114.2 M380.1,114.2 L386.4,107.8" stroke="#7A2F94" stroke-width="1.3" fill="none"/>
<path d="M393.7,97.7 L400.1,104.1 M393.7,104.1 L400.1,97.7" stroke="#7A2F94" stroke-width="1.3" fill="none"/>
<path d="M407.4,85.6 L413.8,92 M407.4,92 L413.8,85.6" stroke="#7A2F94" stroke-width="1.3" fill="none"/>
<path d="M421,85.6 L427.4,92 M421,92 L427.4,85.6" stroke="#7A2F94" stroke-width="1.3" fill="none"/>
<path d="M434.7,95.5 L441.1,101.9 M434.7,101.9 L441.1,95.5" stroke="#7A2F94" stroke-width="1.3" fill="none"/>
<path d="M448.3,102.7 L454.7,109.1 M448.3,109.1 L454.7,102.7" stroke="#7A2F94" stroke-width="1.3" fill="none"/>
<path d="M462,110.4 L468.4,116.8 M462,116.8 L468.4,110.4" stroke="#7A2F94" stroke-width="1.3" fill="none"/>
<path d="M475.6,128.8 L482,135.2 M475.6,135.2 L482,128.8" stroke="#7A2F94" stroke-width="1.3" fill="none"/>
<path d="M489.3,148.7 L495.7,155.1 M489.3,155.1 L495.7,148.7" stroke="#7A2F94" stroke-width="1.3" fill="none"/>
<path d="M502.9,160.6 L509.3,167 M502.9,167 L509.3,160.6" stroke="#7A2F94" stroke-width="1.3" fill="none"/>
<path d="M516.5,166.7 L523,173.1 M516.5,173.1 L523,166.7" stroke="#7A2F94" stroke-width="1.3" fill="none"/>
<path d="M530.2,167.3 L536.6,173.7 M530.2,173.7 L536.6,167.3" stroke="#7A2F94" stroke-width="1.3" fill="none"/>
<path d="M543.8,164.1 L550.2,170.5 M543.8,170.5 L550.2,164.1" stroke="#7A2F94" stroke-width="1.3" fill="none"/>
<path d="M557.5,155.7 L563.9,162.1 M557.5,162.1 L563.9,155.7" stroke="#7A2F94" stroke-width="1.3" fill="none"/>
<path clip-path="url(#clipa)" d="M178.5,188.3 L179.5,191.7 L180.5,195.3 L181.4,199 L182.4,202.9 L183.4,206.9 L184.4,211.5 L185.3,216.5 L186.3,221.6 L187.3,226.1 L188.3,229.7 L189.3,232.6 L190.2,235.3 L191.2,237.6 L192.2,239.5 L193.2,240.6 L194.1,241.4 L195.1,242.1 L196.1,242.6 L197.1,243 L198,243.3 L199,243.3 L200,242.8 L201,241.9 L202,240.8 L202.9,239.5 L203.9,238.3 L204.9,237.1 L205.9,235.8 L206.8,234.4 L207.8,232.9 L208.8,231.3 L209.8,229.6 L210.8,227.9 L211.7,226 L212.7,224 L213.7,221.8 L214.7,219.5 L215.6,217.2 L216.6,214.9 L217.6,212.6 L218.6,210.5 L219.6,208.5 L220.5,206.7 L221.5,205 L222.5,203.4 L223.5,201.9 L224.4,200.4 L225.4,198.9 L226.4,197.5 L227.4,196.1 L228.3,194.8 L229.3,193.6 L230.3,192.3 L231.3,191.2 L232.3,190 L233.2,188.9 L234.2,187.6 L235.2,186.4 L236.2,185.2 L237.1,184.1 L238.1,183.1 L239.1,182.2 L240.1,181.5 L241.1,181 L242,180.8 L243,180.7 L244,180.6 L245,180.5 L245.9,180.5 L246.9,180.4 L247.9,180.4 L248.9,180.3 L249.9,180.3 L250.8,180.2 L251.8,180.2 L252.8,180.2 L253.8,180.1 L254.7,180.1 L255.7,180.1 L256.7,180.1 L257.7,180 L258.7,180 L259.6,179.9 L260.6,179.9 L261.6,179.8 L262.6,179.8 L263.5,179.7 L264.5,179.6 L265.5,179.5 L266.5,179.4 L267.4,179.3 L268.4,179.1 L269.4,179 L270.4,178.8 L271.4,178.6 L272.3,178.4 L273.3,178.2 L274.3,178 L275.3,177.7 L276.2,177.5 L277.2,177.2 L278.2,176.9 L279.2,176.6 L280.2,176.3 L281.1,176 L282.1,175.7 L283.1,175.4 L284.1,175 L285,174.7 L286,174.3 L287,173.8 L288,173.2 L289,172.6 L289.9,171.8 L290.9,171.1 L291.9,170.2 L292.9,169.4 L293.8,168.5 L294.8,167.6 L295.8,166.6 L296.8,165.7 L297.7,164.7 L298.7,163.7 L299.7,162.8 L300.7,161.9 L301.7,161 L302.6,160.2 L303.6,159.4 L304.6,158.7 L305.6,158 L306.5,157.3 L307.5,156.6 L308.5,156 L309.5,155.3 L310.5,154.6 L311.4,153.9 L312.4,153.2 L313.4,152.5 L314.4,151.8 L315.3,151.1 L316.3,150.5 L317.3,149.9 L318.3,149.3 L319.3,148.7 L320.2,148.2 L321.2,147.7 L322.2,147.2 L323.2,146.8 L324.1,146.4 L325.1,146.1 L326.1,145.9 L327.1,145.6 L328,145.5 L329,145.3 L330,145.2 L331,145.1 L332,144.9 L332.9,144.8 L333.9,144.7 L334.9,144.6 L335.9,144.5 L336.8,144.4 L337.8,144.3 L338.8,144.2 L339.8,144.1 L340.8,144 L341.7,144 L342.7,143.9 L343.7,143.8 L344.7,143.8 L345.6,143.7 L346.6,143.7 L347.6,143.7 L348.6,143.7 L349.6,143.7 L350.5,143.7 L351.5,143.7 L352.5,143.8 L353.5,143.8 L354.4,143.9 L355.4,144 L356.4,144.2 L357.4,144.3 L358.3,144.5 L359.3,144.7 L360.3,144.9 L361.3,145.1 L362.3,145.4 L363.2,145.6 L364.2,145.9 L365.2,146.2 L366.2,146.5 L367.1,146.8 L368.1,147.2 L369.1,147.5 L370.1,147.9 L371.1,148.2 L372,148.6 L373,149.2 L374,149.9 L375,150.7 L375.9,151.6 L376.9,152.6 L377.9,153.6 L378.9,154.8 L379.9,156 L380.8,157.4 L381.8,158.8 L382.8,160.4 L383.8,162.2 L384.7,164 L385.7,165.9 L386.7,167.9 L387.7,170 L388.7,172.1 L389.6,174.4 L390.6,176.7 L391.6,179 L392.6,181.5 L393.5,184.2 L394.5,187.2 L395.5,190.3 L396.5,193.7 L397.4,197.2 L398.4,200.7 L399.4,204.3 L400.4,207.8 L401.4,211.3 L402.3,214.7 L403.3,218 L404.3,221.5 L405.3,225.1 L406.2,228.8 L407.2,232.5 L408.2,236.1 L409.2,239.7 L410.2,243 L411.1,246.1 L412.1,248.9 L413.1,251.3 L414.1,253.2 L415,254.8 L416,256.4 L417,257.9 L418,259.3 L419,260.7 L419.9,262 L420.9,263.2 L421.9,264.3 L422.9,265.3 L423.8,266 L424.8,266.7 L425.8,267.1 L426.8,267.3 L427.7,267.4 L428.7,267.3 L429.7,267.2 L430.7,267 L431.7,266.9 L432.6,266.6 L433.6,266.4 L434.6,266.1 L435.6,265.9 L436.5,265.6 L437.5,265.2 L438.5,264.7 L439.5,264.2 L440.5,263.6 L441.4,262.9 L442.4,262.2 L443.4,261.5 L444.4,260.8 L445.3,260 L446.3,259.2 L447.3,258.5 L448.3,257.7 L449.3,257 L450.2,256.2 L451.2,255.4 L452.2,254.6 L453.2,253.7 L454.1,252.8 L455.1,251.9 L456.1,251 L457.1,250.1 L458,249.1 L459,248 L460,246.9 L461,245.8 L462,244.6 L462.9,243.5 L463.9,242.3 L464.9,241.2 L465.9,240.1 L466.8,239.1 L467.8,238.2 L468.8,237.2 L469.8,236.4 L470.8,235.5 L471.7,234.7 L472.7,233.9 L473.7,233.1 L474.7,232.3 L475.6,231.4 L476.6,230.6 L477.6,229.7 L478.6,228.8 L479.6,227.9 L480.5,227 L481.5,226 L482.5,225 L483.5,224 L484.4,223 L485.4,222 L486.4,220.9 L487.4,219.9 L488.3,218.9 L489.3,217.8 L490.3,216.7 L491.3,215.7 L492.3,214.6 L493.2,213.5 L494.2,212.4 L495.2,211.3 L496.2,210.2 L497.1,209.2 L498.1,208.1 L499.1,207 L500.1,205.9 L501.1,204.8 L502,203.8 L503,202.7 L504,201.6 L505,200.5 L505.9,199.3 L506.9,198.2 L507.9,197.1 L508.9,196 L509.9,194.9 L510.8,193.7 L511.8,192.6 L512.8,191.5 L513.8,190.4 L514.7,189.3 L515.7,188.1 L516.7,187 L517.7,185.9 L518.7,184.8 L519.6,183.7 L520.6,182.6 L521.6,181.6 L522.6,180.5 L523.5,179.4 L524.5,178.4 L525.5,177.3 L526.5,176.3 L527.4,175.3 L528.4,174.3 L529.4,173.2 L530.4,172.2 L531.4,171.2 L532.3,170.2 L533.3,169.1 L534.3,168.1 L535.3,167.1 L536.2,166 L537.2,165 L538.2,163.9 L539.2,162.9 L540.2,161.8 L541.1,160.7 L542.1,159.6 L543.1,158.4 L544.1,157.3 L545,156.1 L546,154.8 L547,153.6 L548,152.3 L549,151 L549.9,149.7 L550.9,148.4 L551.9,147.1 L552.9,145.8 L553.8,144.5 L554.8,143.2 L555.8,141.9 L556.8,140.6 L557.7,139.3 L558.7,138.1 L559.7,136.9 L560.7,135.8 L561.7,134.7 L562.6,133.6 L563.6,132.6 L564.6,131.6 L565.6,130.7 L566.5,129.8 L567.5,129 L568.5,128.3" fill="none" stroke="#E64B22" stroke-width="1.7" stroke-dasharray="6,4"/>
<circle cx="178.5" cy="188.3" r="4" fill="#E64B22" stroke="none"/>
<circle cx="200" cy="242.8" r="4" fill="#E64B22" stroke="none"/>
<circle cx="221.4" cy="205.2" r="4" fill="#E64B22" stroke="none"/>
<circle cx="242.9" cy="180.7" r="4" fill="#E64B22" stroke="none"/>
<circle cx="264.3" cy="179.6" r="4" fill="#E64B22" stroke="none"/>
<circle cx="285.8" cy="174.4" r="4" fill="#E64B22" stroke="none"/>
<circle cx="307.2" cy="156.9" r="4" fill="#E64B22" stroke="none"/>
<circle cx="328.6" cy="145.4" r="4" fill="#E64B22" stroke="none"/>
<circle cx="350.1" cy="143.7" r="4" fill="#E64B22" stroke="none"/>
<circle cx="371.6" cy="148.4" r="4" fill="#E64B22" stroke="none"/>
<circle cx="393" cy="182.6" r="4" fill="#E64B22" stroke="none"/>
<circle cx="414.4" cy="253.9" r="4" fill="#E64B22" stroke="none"/>
<circle cx="435.9" cy="265.8" r="4" fill="#E64B22" stroke="none"/>
<circle cx="457.3" cy="249.8" r="4" fill="#E64B22" stroke="none"/>
<circle cx="478.8" cy="228.6" r="4" fill="#E64B22" stroke="none"/>
<circle cx="500.2" cy="205.7" r="4" fill="#E64B22" stroke="none"/>
<circle cx="521.7" cy="181.4" r="4" fill="#E64B22" stroke="none"/>
<circle cx="543.2" cy="158.4" r="4" fill="#E64B22" stroke="none"/>
<circle cx="564.6" cy="131.6" r="4" fill="#E64B22" stroke="none"/>
<path clip-path="url(#clipa)" d="M178.5,171.3 L179.5,173.5 L180.5,176.6 L181.4,180.3 L182.4,184.5 L183.4,189.6 L184.4,195.8 L185.3,202.3 L186.3,209.3 L187.3,216.5 L188.3,223.5 L189.3,231.2 L190.2,238.7 L191.2,242.8 L192.2,244.1 L193.2,245.3 L194.1,246.2 L195.1,246.9 L196.1,247.4 L197.1,247.7 L198,247.8 L199,247.6 L200,247.3 L201,246.7 L202,246 L202.9,245.2 L203.9,244.3 L204.9,243.4 L205.9,242.4 L206.8,241.2 L207.8,239.8 L208.8,238.1 L209.8,236.2 L210.8,234 L211.7,231.8 L212.7,229.4 L213.7,226.9 L214.7,224.5 L215.6,222 L216.6,219.6 L217.6,217.2 L218.6,215 L219.6,212.9 L220.5,211 L221.5,209.2 L222.5,207.4 L223.5,205.5 L224.4,203.7 L225.4,202 L226.4,200.2 L227.4,198.6 L228.3,197 L229.3,195.5 L230.3,194.1 L231.3,192.8 L232.3,191.7 L233.2,190.6 L234.2,189.6 L235.2,188.6 L236.2,187.6 L237.1,186.6 L238.1,185.7 L239.1,184.8 L240.1,183.9 L241.1,183.1 L242,182.5 L243,181.9 L244,181.4 L245,181.1 L245.9,180.9 L246.9,180.8 L247.9,180.9 L248.9,181 L249.9,181.2 L250.8,181.4 L251.8,181.7 L252.8,182.1 L253.8,182.4 L254.7,182.7 L255.7,183.1 L256.7,183.4 L257.7,183.7 L258.7,183.9 L259.6,184.2 L260.6,184.3 L261.6,184.4 L262.6,184.6 L263.5,184.7 L264.5,184.8 L265.5,184.9 L266.5,185 L267.4,185.1 L268.4,185.2 L269.4,185.3 L270.4,185.4 L271.4,185.4 L272.3,185.4 L273.3,185.4 L274.3,185.3 L275.3,185.2 L276.2,184.9 L277.2,184.6 L278.2,184.2 L279.2,183.7 L280.2,183.2 L281.1,182.7 L282.1,182.1 L283.1,181.6 L284.1,181 L285,180.4 L286,179.9 L287,179.3 L288,178.8 L289,178.3 L289.9,177.7 L290.9,177.2 L291.9,176.5 L292.9,175.9 L293.8,175.3 L294.8,174.7 L295.8,174 L296.8,173.4 L297.7,172.7 L298.7,172.1 L299.7,171.5 L300.7,170.9 L301.7,170.3 L302.6,169.7 L303.6,169 L304.6,168.4 L305.6,167.8 L306.5,167.2 L307.5,166.6 L308.5,166 L309.5,165.4 L310.5,164.8 L311.4,164.2 L312.4,163.7 L313.4,163.1 L314.4,162.6 L315.3,162.1 L316.3,161.5 L317.3,161 L318.3,160.5 L319.3,160 L320.2,159.4 L321.2,158.9 L322.2,158.5 L323.2,158 L324.1,157.5 L325.1,157.1 L326.1,156.8 L327.1,156.5 L328,156.2 L329,156 L330,155.8 L331,155.6 L332,155.4 L332.9,155.2 L333.9,155 L334.9,154.8 L335.9,154.7 L336.8,154.5 L337.8,154.4 L338.8,154.3 L339.8,154.3 L340.8,154.2 L341.7,154.2 L342.7,154.2 L343.7,154.2 L344.7,154.3 L345.6,154.4 L346.6,154.5 L347.6,154.7 L348.6,154.8 L349.6,155 L350.5,155.2 L351.5,155.3 L352.5,155.5 L353.5,155.7 L354.4,155.9 L355.4,156 L356.4,156.2 L357.4,156.4 L358.3,156.5 L359.3,156.7 L360.3,156.9 L361.3,157.1 L362.3,157.3 L363.2,157.4 L364.2,157.6 L365.2,157.8 L366.2,158 L367.1,158.2 L368.1,158.4 L369.1,158.6 L370.1,158.8 L371.1,158.9 L372,159.1 L373,159.3 L374,159.4 L375,159.6 L375.9,159.8 L376.9,159.9 L377.9,160.1 L378.9,160.4 L379.9,160.6 L380.8,160.9 L381.8,161.2 L382.8,161.5 L383.8,161.9 L384.7,162.5 L385.7,163.2 L386.7,164.1 L387.7,165.2 L388.7,166.3 L389.6,167.7 L390.6,169.1 L391.6,170.6 L392.6,172.1 L393.5,173.8 L394.5,175.5 L395.5,177.2 L396.5,178.9 L397.4,180.7 L398.4,182.7 L399.4,185 L400.4,187.5 L401.4,190.2 L402.3,193 L403.3,195.9 L404.3,198.9 L405.3,201.9 L406.2,204.8 L407.2,207.7 L408.2,210.5 L409.2,213.1 L410.2,215.6 L411.1,217.9 L412.1,220.3 L413.1,222.7 L414.1,225.2 L415,227.7 L416,230.1 L417,232.5 L418,234.7 L419,236.9 L419.9,238.8 L420.9,240.5 L421.9,242 L422.9,243.2 L423.8,244.1 L424.8,244.7 L425.8,245.2 L426.8,245.8 L427.7,246.3 L428.7,246.7 L429.7,247.2 L430.7,247.6 L431.7,247.9 L432.6,248.2 L433.6,248.5 L434.6,248.7 L435.6,248.8 L436.5,248.9 L437.5,248.9 L438.5,248.9 L439.5,248.8 L440.5,248.7 L441.4,248.5 L442.4,248.3 L443.4,248.1 L444.4,247.8 L445.3,247.5 L446.3,247.2 L447.3,246.9 L448.3,246.5 L449.3,246.2 L450.2,245.9 L451.2,245.6 L452.2,245.2 L453.2,244.8 L454.1,244.5 L455.1,244 L456.1,243.6 L457.1,243.1 L458,242.6 L459,242.1 L460,241.6 L461,241.1 L462,240.5 L462.9,240 L463.9,239.4 L464.9,238.9 L465.9,238.3 L466.8,237.7 L467.8,237 L468.8,236.4 L469.8,235.7 L470.8,235 L471.7,234.3 L472.7,233.5 L473.7,232.8 L474.7,232 L475.6,231.2 L476.6,230.4 L477.6,229.6 L478.6,228.8 L479.6,228 L480.5,227.1 L481.5,226.2 L482.5,225.3 L483.5,224.4 L484.4,223.4 L485.4,222.5 L486.4,221.5 L487.4,220.5 L488.3,219.4 L489.3,218.4 L490.3,217.4 L491.3,216.3 L492.3,215.3 L493.2,214.2 L494.2,213.2 L495.2,212.1 L496.2,211 L497.1,209.8 L498.1,208.7 L499.1,207.6 L500.1,206.4 L501.1,205.3 L502,204.1 L503,202.9 L504,201.8 L505,200.6 L505.9,199.4 L506.9,198.3 L507.9,197.1 L508.9,195.9 L509.9,194.8 L510.8,193.6 L511.8,192.4 L512.8,191.2 L513.8,190 L514.7,188.8 L515.7,187.6 L516.7,186.5 L517.7,185.3 L518.7,184.1 L519.6,183 L520.6,181.8 L521.6,180.7 L522.6,179.6 L523.5,178.6 L524.5,177.5 L525.5,176.4 L526.5,175.4 L527.4,174.3 L528.4,173.2 L529.4,172.1 L530.4,171 L531.4,169.9 L532.3,168.7 L533.3,167.5 L534.3,166.3 L535.3,165.1 L536.2,163.8 L537.2,162.5 L538.2,161.2 L539.2,159.9 L540.2,158.5 L541.1,157.2 L542.1,155.8 L543.1,154.5 L544.1,153.1 L545,151.8 L546,150.4 L547,149.1 L548,147.8 L549,146.6 L549.9,145.3 L550.9,144 L551.9,142.8 L552.9,141.5 L553.8,140.2 L554.8,139 L555.8,137.7 L556.8,136.4 L557.7,135.1 L558.7,133.7 L559.7,132.3 L560.7,130.9 L561.7,129.4 L562.6,127.9 L563.6,126.4 L564.6,124.8 L565.6,123.2 L566.5,121.5 L567.5,119.9 L568.5,118.2" fill="none" stroke="#5FB432" stroke-width="1.7" stroke-dasharray="6,4"/>
<rect x="175.4" y="168.2" width="6.2" height="6.2" fill="none" stroke="#5FB432" stroke-width="1.2"/>
<rect x="189.1" y="241" width="6.2" height="6.2" fill="none" stroke="#5FB432" stroke-width="1.2"/>
<rect x="202.7" y="239.4" width="6.2" height="6.2" fill="none" stroke="#5FB432" stroke-width="1.2"/>
<rect x="216.3" y="210" width="6.2" height="6.2" fill="none" stroke="#5FB432" stroke-width="1.2"/>
<rect x="230" y="187.7" width="6.2" height="6.2" fill="none" stroke="#5FB432" stroke-width="1.2"/>
<rect x="243.7" y="177.7" width="6.2" height="6.2" fill="none" stroke="#5FB432" stroke-width="1.2"/>
<rect x="257.3" y="181.2" width="6.2" height="6.2" fill="none" stroke="#5FB432" stroke-width="1.2"/>
<rect x="270.9" y="182.3" width="6.2" height="6.2" fill="none" stroke="#5FB432" stroke-width="1.2"/>
<rect x="284.6" y="175.9" width="6.2" height="6.2" fill="none" stroke="#5FB432" stroke-width="1.2"/>
<rect x="298.2" y="167.4" width="6.2" height="6.2" fill="none" stroke="#5FB432" stroke-width="1.2"/>
<rect x="311.9" y="159.1" width="6.2" height="6.2" fill="none" stroke="#5FB432" stroke-width="1.2"/>
<rect x="325.5" y="153" width="6.2" height="6.2" fill="none" stroke="#5FB432" stroke-width="1.2"/>
<rect x="339.2" y="151.1" width="6.2" height="6.2" fill="none" stroke="#5FB432" stroke-width="1.2"/>
<rect x="352.9" y="153" width="6.2" height="6.2" fill="none" stroke="#5FB432" stroke-width="1.2"/>
<rect x="366.5" y="155.6" width="6.2" height="6.2" fill="none" stroke="#5FB432" stroke-width="1.2"/>
<rect x="380.1" y="158.6" width="6.2" height="6.2" fill="none" stroke="#5FB432" stroke-width="1.2"/>
<rect x="393.8" y="176.6" width="6.2" height="6.2" fill="none" stroke="#5FB432" stroke-width="1.2"/>
<rect x="407.5" y="213.4" width="6.2" height="6.2" fill="none" stroke="#5FB432" stroke-width="1.2"/>
<rect x="421.1" y="241.2" width="6.2" height="6.2" fill="none" stroke="#5FB432" stroke-width="1.2"/>
<rect x="434.8" y="245.8" width="6.2" height="6.2" fill="none" stroke="#5FB432" stroke-width="1.2"/>
<rect x="448.4" y="242.4" width="6.2" height="6.2" fill="none" stroke="#5FB432" stroke-width="1.2"/>
<rect x="462.1" y="235.6" width="6.2" height="6.2" fill="none" stroke="#5FB432" stroke-width="1.2"/>
<rect x="475.7" y="225.5" width="6.2" height="6.2" fill="none" stroke="#5FB432" stroke-width="1.2"/>
<rect x="489.4" y="212" width="6.2" height="6.2" fill="none" stroke="#5FB432" stroke-width="1.2"/>
<rect x="503" y="196.2" width="6.2" height="6.2" fill="none" stroke="#5FB432" stroke-width="1.2"/>
<rect x="516.6" y="179.7" width="6.2" height="6.2" fill="none" stroke="#5FB432" stroke-width="1.2"/>
<rect x="530.3" y="164.3" width="6.2" height="6.2" fill="none" stroke="#5FB432" stroke-width="1.2"/>
<rect x="543.9" y="146" width="6.2" height="6.2" fill="none" stroke="#5FB432" stroke-width="1.2"/>
<rect x="557.6" y="127.8" width="6.2" height="6.2" fill="none" stroke="#5FB432" stroke-width="1.2"/>
<path clip-path="url(#clipa)" d="M178.5,187.3 L179.5,190.4 L180.5,193.9 L181.4,197.6 L182.4,201.7 L183.4,206.6 L184.4,212.2 L185.3,217.9 L186.3,223.3 L187.3,227.7 L188.3,231.4 L189.3,235 L190.2,238.3 L191.2,241.1 L192.2,243.4 L193.2,244.9 L194.1,246.1 L195.1,247.1 L196.1,248 L197.1,248.6 L198,249 L199,249 L200,248.6 L201,247.6 L202,246.3 L202.9,244.9 L203.9,243.4 L204.9,241.9 L205.9,240.5 L206.8,238.8 L207.8,237.1 L208.8,235.3 L209.8,233.4 L210.8,231.4 L211.7,229.4 L212.7,227.4 L213.7,225.4 L214.7,223.2 L215.6,220.9 L216.6,218.6 L217.6,216.3 L218.6,214.1 L219.6,212.1 L220.5,210.1 L221.5,208.3 L222.5,206.5 L223.5,204.7 L224.4,202.9 L225.4,201.2 L226.4,199.5 L227.4,197.9 L228.3,196.4 L229.3,195 L230.3,193.7 L231.3,192.5 L232.3,191.5 L233.2,190.5 L234.2,189.5 L235.2,188.5 L236.2,187.5 L237.1,186.7 L238.1,185.9 L239.1,185.3 L240.1,184.8 L241.1,184.5 L242,184.4 L243,184.4 L244,184.5 L245,184.5 L245.9,184.5 L246.9,184.6 L247.9,184.7 L248.9,184.8 L249.9,184.9 L250.8,185 L251.8,185.1 L252.8,185.2 L253.8,185.4 L254.7,185.5 L255.7,185.7 L256.7,185.8 L257.7,186 L258.7,186.2 L259.6,186.4 L260.6,186.6 L261.6,186.8 L262.6,187 L263.5,187.2 L264.5,187.5 L265.5,188 L266.5,188.6 L267.4,189.2 L268.4,189.7 L269.4,190.1 L270.4,190.2 L271.4,190.2 L272.3,190.2 L273.3,190.2 L274.3,190.2 L275.3,190.2 L276.2,190.2 L277.2,190.1 L278.2,190.1 L279.2,190.1 L280.2,190.1 L281.1,190.1 L282.1,190.1 L283.1,190.1 L284.1,190.1 L285,190 L286,190 L287,189.9 L288,189.7 L289,189.4 L289.9,188.9 L290.9,188.4 L291.9,187.9 L292.9,187.2 L293.8,186.5 L294.8,185.8 L295.8,185 L296.8,184.2 L297.7,183.3 L298.7,182.5 L299.7,181.7 L300.7,180.8 L301.7,180 L302.6,179.2 L303.6,178.5 L304.6,177.8 L305.6,177.1 L306.5,176.6 L307.5,176 L308.5,175.5 L309.5,175 L310.5,174.5 L311.4,174 L312.4,173.4 L313.4,172.9 L314.4,172.3 L315.3,171.8 L316.3,171.3 L317.3,170.8 L318.3,170.3 L319.3,169.9 L320.2,169.4 L321.2,169 L322.2,168.7 L323.2,168.3 L324.1,168.1 L325.1,167.8 L326.1,167.6 L327.1,167.5 L328,167.4 L329,167.4 L330,167.4 L331,167.4 L332,167.4 L332.9,167.4 L333.9,167.4 L334.9,167.4 L335.9,167.4 L336.8,167.4 L337.8,167.4 L338.8,167.4 L339.8,167.4 L340.8,167.4 L341.7,167.4 L342.7,167.4 L343.7,167.4 L344.7,167.4 L345.6,167.4 L346.6,167.4 L347.6,167.4 L348.6,167.4 L349.6,167.4 L350.5,167.4 L351.5,167.4 L352.5,167.4 L353.5,167.3 L354.4,167.2 L355.4,167.2 L356.4,167.1 L357.4,167 L358.3,166.9 L359.3,166.8 L360.3,166.7 L361.3,166.6 L362.3,166.5 L363.2,166.4 L364.2,166.3 L365.2,166.2 L366.2,166.1 L367.1,166 L368.1,165.9 L369.1,165.9 L370.1,165.9 L371.1,165.8 L372,165.8 L373,165.9 L374,165.9 L375,165.9 L375.9,166 L376.9,166.1 L377.9,166.2 L378.9,166.3 L379.9,166.4 L380.8,166.5 L381.8,166.7 L382.8,166.8 L383.8,167 L384.7,167.2 L385.7,167.4 L386.7,167.6 L387.7,167.8 L388.7,168 L389.6,168.3 L390.6,168.5 L391.6,168.8 L392.6,169 L393.5,169.3 L394.5,169.7 L395.5,170.2 L396.5,170.8 L397.4,171.5 L398.4,172.2 L399.4,173 L400.4,173.9 L401.4,174.9 L402.3,176.3 L403.3,177.9 L404.3,179.9 L405.3,182 L406.2,184.3 L407.2,186.8 L408.2,189.2 L409.2,191.7 L410.2,194.2 L411.1,196.5 L412.1,198.7 L413.1,200.7 L414.1,202.4 L415,203.9 L416,205.5 L417,207 L418,208.5 L419,210 L419.9,211.4 L420.9,212.9 L421.9,214.3 L422.9,215.7 L423.8,217 L424.8,218.3 L425.8,219.6 L426.8,220.8 L427.7,221.9 L428.7,223 L429.7,224 L430.7,225 L431.7,225.8 L432.6,226.6 L433.6,227.3 L434.6,228 L435.6,228.5 L436.5,228.9 L437.5,229.3 L438.5,229.8 L439.5,230.2 L440.5,230.6 L441.4,231 L442.4,231.3 L443.4,231.7 L444.4,232 L445.3,232.4 L446.3,232.7 L447.3,233 L448.3,233.2 L449.3,233.5 L450.2,233.7 L451.2,233.9 L452.2,234.1 L453.2,234.2 L454.1,234.4 L455.1,234.4 L456.1,234.5 L457.1,234.5 L458,234.5 L459,234.5 L460,234.4 L461,234.4 L462,234.3 L462.9,234.2 L463.9,234.1 L464.9,234 L465.9,233.9 L466.8,233.7 L467.8,233.4 L468.8,233.1 L469.8,232.8 L470.8,232.4 L471.7,232.1 L472.7,231.6 L473.7,231.2 L474.7,230.7 L475.6,230.3 L476.6,229.8 L477.6,229.3 L478.6,228.7 L479.6,228.2 L480.5,227.6 L481.5,226.9 L482.5,226.1 L483.5,225.3 L484.4,224.4 L485.4,223.5 L486.4,222.5 L487.4,221.5 L488.3,220.4 L489.3,219.3 L490.3,218.2 L491.3,217 L492.3,215.9 L493.2,214.7 L494.2,213.5 L495.2,212.3 L496.2,211.1 L497.1,209.9 L498.1,208.8 L499.1,207.6 L500.1,206.5 L501.1,205.4 L502,204.3 L503,203.1 L504,202 L505,200.8 L505.9,199.6 L506.9,198.4 L507.9,197.2 L508.9,196 L509.9,194.7 L510.8,193.5 L511.8,192.3 L512.8,191 L513.8,189.8 L514.7,188.5 L515.7,187.3 L516.7,186.1 L517.7,184.8 L518.7,183.6 L519.6,182.4 L520.6,181.2 L521.6,180 L522.6,178.8 L523.5,177.7 L524.5,176.5 L525.5,175.4 L526.5,174.3 L527.4,173.1 L528.4,172 L529.4,170.9 L530.4,169.7 L531.4,168.6 L532.3,167.4 L533.3,166.3 L534.3,165.1 L535.3,164 L536.2,162.8 L537.2,161.6 L538.2,160.3 L539.2,159.1 L540.2,157.8 L541.1,156.5 L542.1,155.2 L543.1,153.9 L544.1,152.5 L545,151.1 L546,149.7 L547,148.2 L548,146.6 L549,144.9 L549.9,143.2 L550.9,141.5 L551.9,139.7 L552.9,137.8 L553.8,136 L554.8,134.1 L555.8,132.2 L556.8,130.3 L557.7,128.4 L558.7,126.5 L559.7,124.6 L560.7,122.7 L561.7,120.9 L562.6,119.1 L563.6,117.4 L564.6,115.7 L565.6,114.1 L566.5,112.6 L567.5,111.1 L568.5,109.5" fill="none" stroke="#4EC0F0" stroke-width="1.7" stroke-dasharray="6,4"/>
<path d="M174.8,184.6 L182.2,184.6 L178.5,190.7Z" fill="none" stroke="#4EC0F0" stroke-width="1.2"/>
<path d="M196.2,245.9 L203.7,245.9 L200,252Z" fill="none" stroke="#4EC0F0" stroke-width="1.2"/>
<path d="M217.7,205.8 L225.1,205.8 L221.4,211.9Z" fill="none" stroke="#4EC0F0" stroke-width="1.2"/>
<path d="M239.1,181.7 L246.6,181.7 L242.9,187.8Z" fill="none" stroke="#4EC0F0" stroke-width="1.2"/>
<path d="M260.6,184.7 L268,184.7 L264.3,190.8Z" fill="none" stroke="#4EC0F0" stroke-width="1.2"/>
<path d="M282,187.3 L289.5,187.3 L285.8,193.4Z" fill="none" stroke="#4EC0F0" stroke-width="1.2"/>
<path d="M303.5,173.5 L310.9,173.5 L307.2,179.6Z" fill="none" stroke="#4EC0F0" stroke-width="1.2"/>
<path d="M324.9,164.7 L332.4,164.7 L328.6,170.8Z" fill="none" stroke="#4EC0F0" stroke-width="1.2"/>
<path d="M346.4,164.7 L353.8,164.7 L350.1,170.8Z" fill="none" stroke="#4EC0F0" stroke-width="1.2"/>
<path d="M367.8,163.1 L375.3,163.1 L371.6,169.2Z" fill="none" stroke="#4EC0F0" stroke-width="1.2"/>
<path d="M389.3,166.4 L396.7,166.4 L393,172.6Z" fill="none" stroke="#4EC0F0" stroke-width="1.2"/>
<path d="M410.7,200.3 L418.2,200.3 L414.4,206.4Z" fill="none" stroke="#4EC0F0" stroke-width="1.2"/>
<path d="M432.2,225.9 L439.6,225.9 L435.9,232Z" fill="none" stroke="#4EC0F0" stroke-width="1.2"/>
<path d="M453.6,231.8 L461.1,231.8 L457.3,237.9Z" fill="none" stroke="#4EC0F0" stroke-width="1.2"/>
<path d="M475.1,225.9 L482.5,225.9 L478.8,232Z" fill="none" stroke="#4EC0F0" stroke-width="1.2"/>
<path d="M496.5,203.6 L504,203.6 L500.2,209.7Z" fill="none" stroke="#4EC0F0" stroke-width="1.2"/>
<path d="M518,177.2 L525.4,177.2 L521.7,183.3Z" fill="none" stroke="#4EC0F0" stroke-width="1.2"/>
<path d="M539.4,151.1 L546.9,151.1 L543.2,157.2Z" fill="none" stroke="#4EC0F0" stroke-width="1.2"/>
<path d="M560.9,113 L568.3,113 L564.6,119.1Z" fill="none" stroke="#4EC0F0" stroke-width="1.2"/>
<path clip-path="url(#clipa)" d="M178.5,173.8 L179.5,176.3 L180.5,179.2 L181.4,182.4 L182.4,185.9 L183.4,189.7 L184.4,193.6 L185.3,197.8 L186.3,202.3 L187.3,207.5 L188.3,213.4 L189.3,221.7 L190.2,231.3 L191.2,238.7 L192.2,243.6 L193.2,247.6 L194.1,250.8 L195.1,253 L196.1,255.1 L197.1,256.6 L198,257.1 L199,256.9 L200,256.5 L201,255.8 L202,254.9 L202.9,253.6 L203.9,251.6 L204.9,249.4 L205.9,247.1 L206.8,244.6 L207.8,242 L208.8,239.2 L209.8,236.6 L210.8,234.2 L211.7,232 L212.7,229.8 L213.7,227.7 L214.7,225.7 L215.6,223.7 L216.6,221.7 L217.6,219.8 L218.6,217.9 L219.6,216.1 L220.5,214.2 L221.5,212.3 L222.5,210.3 L223.5,208.4 L224.4,206.6 L225.4,204.7 L226.4,202.9 L227.4,201.2 L228.3,199.5 L229.3,198 L230.3,196.5 L231.3,195.2 L232.3,194 L233.2,192.9 L234.2,191.9 L235.2,190.8 L236.2,189.7 L237.1,188.7 L238.1,187.7 L239.1,186.7 L240.1,185.8 L241.1,185 L242,184.3 L243,183.7 L244,183.2 L245,182.8 L245.9,182.6 L246.9,182.6 L247.9,182.7 L248.9,182.9 L249.9,183.3 L250.8,183.9 L251.8,184.5 L252.8,185.2 L253.8,186 L254.7,186.8 L255.7,187.6 L256.7,188.4 L257.7,189.2 L258.7,190 L259.6,190.7 L260.6,191.3 L261.6,192 L262.6,192.7 L263.5,193.5 L264.5,194.3 L265.5,195.1 L266.5,195.8 L267.4,196.6 L268.4,197.3 L269.4,197.9 L270.4,198.4 L271.4,198.8 L272.3,199.1 L273.3,199.2 L274.3,199.2 L275.3,199.2 L276.2,199.1 L277.2,198.9 L278.2,198.7 L279.2,198.5 L280.2,198.2 L281.1,197.9 L282.1,197.6 L283.1,197.3 L284.1,196.9 L285,196.6 L286,196.2 L287,195.9 L288,195.5 L289,195.1 L289.9,194.6 L290.9,194.1 L291.9,193.5 L292.9,192.9 L293.8,192.3 L294.8,191.7 L295.8,191 L296.8,190.4 L297.7,189.8 L298.7,189.2 L299.7,188.6 L300.7,188.1 L301.7,187.6 L302.6,187.1 L303.6,186.6 L304.6,186.2 L305.6,185.7 L306.5,185.3 L307.5,184.8 L308.5,184.4 L309.5,184 L310.5,183.6 L311.4,183.2 L312.4,182.9 L313.4,182.5 L314.4,182.2 L315.3,181.9 L316.3,181.6 L317.3,181.3 L318.3,181 L319.3,180.7 L320.2,180.5 L321.2,180.2 L322.2,180 L323.2,179.7 L324.1,179.5 L325.1,179.3 L326.1,179.1 L327.1,178.8 L328,178.6 L329,178.4 L330,178.2 L331,178 L332,177.8 L332.9,177.7 L333.9,177.5 L334.9,177.3 L335.9,177.1 L336.8,176.9 L337.8,176.8 L338.8,176.6 L339.8,176.5 L340.8,176.4 L341.7,176.2 L342.7,176.1 L343.7,176 L344.7,175.9 L345.6,175.9 L346.6,175.8 L347.6,175.7 L348.6,175.6 L349.6,175.6 L350.5,175.5 L351.5,175.4 L352.5,175.3 L353.5,175.3 L354.4,175.2 L355.4,175.1 L356.4,175 L357.4,174.9 L358.3,174.7 L359.3,174.6 L360.3,174.5 L361.3,174.4 L362.3,174.3 L363.2,174.1 L364.2,174 L365.2,173.9 L366.2,173.7 L367.1,173.6 L368.1,173.4 L369.1,173.2 L370.1,173 L371.1,172.7 L372,172.4 L373,172 L374,171.6 L375,171.2 L375.9,170.8 L376.9,170.4 L377.9,170 L378.9,169.7 L379.9,169.4 L380.8,169.1 L381.8,169 L382.8,168.9 L383.8,168.9 L384.7,168.9 L385.7,168.9 L386.7,168.9 L387.7,168.9 L388.7,168.9 L389.6,168.9 L390.6,169 L391.6,169 L392.6,169 L393.5,169 L394.5,169.1 L395.5,169.1 L396.5,169.1 L397.4,169.2 L398.4,169.4 L399.4,169.8 L400.4,170.4 L401.4,171 L402.3,171.8 L403.3,172.6 L404.3,173.6 L405.3,174.5 L406.2,175.6 L407.2,176.6 L408.2,177.7 L409.2,178.7 L410.2,179.7 L411.1,180.7 L412.1,181.8 L413.1,183 L414.1,184.3 L415,185.6 L416,187 L417,188.4 L418,189.8 L419,191.2 L419.9,192.6 L420.9,193.9 L421.9,195.1 L422.9,196.3 L423.8,197.3 L424.8,198.2 L425.8,199.1 L426.8,200 L427.7,200.8 L428.7,201.7 L429.7,202.5 L430.7,203.2 L431.7,203.9 L432.6,204.6 L433.6,205.3 L434.6,205.9 L435.6,206.5 L436.5,207 L437.5,207.5 L438.5,207.9 L439.5,208.3 L440.5,208.7 L441.4,209 L442.4,209.3 L443.4,209.6 L444.4,209.9 L445.3,210.2 L446.3,210.5 L447.3,210.8 L448.3,211.1 L449.3,211.5 L450.2,211.9 L451.2,212.3 L452.2,212.8 L453.2,213.3 L454.1,213.9 L455.1,214.5 L456.1,215.2 L457.1,215.8 L458,216.5 L459,217.1 L460,217.8 L461,218.4 L462,219 L462.9,219.5 L463.9,220 L464.9,220.5 L465.9,220.9 L466.8,221.4 L467.8,221.9 L468.8,222.3 L469.8,222.8 L470.8,223.2 L471.7,223.6 L472.7,224 L473.7,224.4 L474.7,224.7 L475.6,224.9 L476.6,225.1 L477.6,225.3 L478.6,225.3 L479.6,225.3 L480.5,225.1 L481.5,224.7 L482.5,224.3 L483.5,223.7 L484.4,223 L485.4,222.3 L486.4,221.5 L487.4,220.6 L488.3,219.7 L489.3,218.8 L490.3,217.8 L491.3,216.9 L492.3,216 L493.2,215.1 L494.2,214 L495.2,212.9 L496.2,211.8 L497.1,210.5 L498.1,209.2 L499.1,207.9 L500.1,206.5 L501.1,205.1 L502,203.7 L503,202.3 L504,201 L505,199.6 L505.9,198.3 L506.9,197 L507.9,195.8 L508.9,194.5 L509.9,193.3 L510.8,192 L511.8,190.8 L512.8,189.5 L513.8,188.3 L514.7,187 L515.7,185.7 L516.7,184.4 L517.7,183.1 L518.7,181.8 L519.6,180.4 L520.6,179 L521.6,177.6 L522.6,176.1 L523.5,174.7 L524.5,173.2 L525.5,171.6 L526.5,170.1 L527.4,168.6 L528.4,167 L529.4,165.5 L530.4,163.9 L531.4,162.4 L532.3,160.8 L533.3,159.3 L534.3,157.7 L535.3,156.2 L536.2,154.6 L537.2,153.1 L538.2,151.5 L539.2,150 L540.2,148.4 L541.1,146.8 L542.1,145.2 L543.1,143.6 L544.1,142 L545,140.4 L546,138.7 L547,137.1 L548,135.4 L549,133.7 L549.9,132.1 L550.9,130.4 L551.9,128.7 L552.9,127 L553.8,125.3 L554.8,123.5 L555.8,121.7 L556.8,119.9 L557.7,118.1 L558.7,116.2 L559.7,114.3 L560.7,112.3 L561.7,110.3 L562.6,108.2 L563.6,106 L564.6,103.8 L565.6,101.5 L566.5,99.2 L567.5,96.8 L568.5,94.4" fill="none" stroke="#7A2F94" stroke-width="1.7" stroke-dasharray="6,4"/>
<path d="M175.3,170.6 L181.7,177 M175.3,177 L181.7,170.6" stroke="#7A2F94" stroke-width="1.3" fill="none"/>
<path d="M189,240.2 L195.3,246.6 M189,246.6 L195.3,240.2" stroke="#7A2F94" stroke-width="1.3" fill="none"/>
<path d="M202.6,244.1 L209,250.5 M202.6,250.5 L209,244.1" stroke="#7A2F94" stroke-width="1.3" fill="none"/>
<path d="M216.2,213.1 L222.6,219.5 M216.2,219.5 L222.6,213.1" stroke="#7A2F94" stroke-width="1.3" fill="none"/>
<path d="M229.9,189.9 L236.3,196.3 M229.9,196.3 L236.3,189.9" stroke="#7A2F94" stroke-width="1.3" fill="none"/>
<path d="M243.6,179.3 L249.9,185.7 M243.6,185.7 L249.9,179.3" stroke="#7A2F94" stroke-width="1.3" fill="none"/>
<path d="M257.2,188 L263.6,194.4 M257.2,194.4 L263.6,188" stroke="#7A2F94" stroke-width="1.3" fill="none"/>
<path d="M270.9,196 L277.2,202.4 M270.9,202.4 L277.2,196" stroke="#7A2F94" stroke-width="1.3" fill="none"/>
<path d="M284.5,192.4 L290.9,198.8 M284.5,198.8 L290.9,192.4" stroke="#7A2F94" stroke-width="1.3" fill="none"/>
<path d="M298.2,184.5 L304.6,190.9 M298.2,190.9 L304.6,184.5" stroke="#7A2F94" stroke-width="1.3" fill="none"/>
<path d="M311.8,178.8 L318.2,185.2 M311.8,185.2 L318.2,178.8" stroke="#7A2F94" stroke-width="1.3" fill="none"/>
<path d="M325.4,175.3 L331.8,181.7 M325.4,181.7 L331.8,175.3" stroke="#7A2F94" stroke-width="1.3" fill="none"/>
<path d="M339.1,173 L345.5,179.4 M339.1,179.4 L345.5,173" stroke="#7A2F94" stroke-width="1.3" fill="none"/>
<path d="M352.8,171.8 L359.2,178.2 M352.8,178.2 L359.2,171.8" stroke="#7A2F94" stroke-width="1.3" fill="none"/>
<path d="M366.4,169.9 L372.8,176.3 M366.4,176.3 L372.8,169.9" stroke="#7A2F94" stroke-width="1.3" fill="none"/>
<path d="M380.1,165.7 L386.4,172.1 M380.1,172.1 L386.4,165.7" stroke="#7A2F94" stroke-width="1.3" fill="none"/>
<path d="M393.7,166 L400.1,172.4 M393.7,172.4 L400.1,166" stroke="#7A2F94" stroke-width="1.3" fill="none"/>
<path d="M407.4,176.9 L413.8,183.3 M407.4,183.3 L413.8,176.9" stroke="#7A2F94" stroke-width="1.3" fill="none"/>
<path d="M421,194.5 L427.4,200.9 M421,200.9 L427.4,194.5" stroke="#7A2F94" stroke-width="1.3" fill="none"/>
<path d="M434.7,204.4 L441.1,210.8 M434.7,210.8 L441.1,204.4" stroke="#7A2F94" stroke-width="1.3" fill="none"/>
<path d="M448.3,209.2 L454.7,215.6 M448.3,215.6 L454.7,209.2" stroke="#7A2F94" stroke-width="1.3" fill="none"/>
<path d="M462,217.4 L468.4,223.8 M462,223.8 L468.4,217.4" stroke="#7A2F94" stroke-width="1.3" fill="none"/>
<path d="M475.6,222.1 L482,228.5 M475.6,228.5 L482,222.1" stroke="#7A2F94" stroke-width="1.3" fill="none"/>
<path d="M489.3,212.6 L495.7,219 M489.3,219 L495.7,212.6" stroke="#7A2F94" stroke-width="1.3" fill="none"/>
<path d="M502.9,194.9 L509.3,201.3 M502.9,201.3 L509.3,194.9" stroke="#7A2F94" stroke-width="1.3" fill="none"/>
<path d="M516.5,177 L523,183.4 M516.5,183.4 L523,177" stroke="#7A2F94" stroke-width="1.3" fill="none"/>
<path d="M530.2,155.9 L536.6,162.3 M530.2,162.3 L536.6,155.9" stroke="#7A2F94" stroke-width="1.3" fill="none"/>
<path d="M543.8,133.8 L550.2,140.2 M543.8,140.2 L550.2,133.8" stroke="#7A2F94" stroke-width="1.3" fill="none"/>
<path d="M557.5,109.1 L563.9,115.5 M557.5,115.5 L563.9,109.1" stroke="#7A2F94" stroke-width="1.3" fill="none"/>
<rect x="178.5" y="7.5" width="390.0" height="287.8" fill="none" stroke="#8a8a8a" stroke-width="1"/>
<line x1="178.5" y1="295.3" x2="178.5" y2="291.1" stroke="#8a8a8a"/>
<line x1="178.5" y1="7.5" x2="178.5" y2="11.7" stroke="#8a8a8a"/>
<text x="178.5" y="312.3" font-family="Liberation Sans" font-size="11" text-anchor="middle" fill="#222" >2</text>
<line x1="227.2" y1="295.3" x2="227.2" y2="291.1" stroke="#8a8a8a"/>
<line x1="227.2" y1="7.5" x2="227.2" y2="11.7" stroke="#8a8a8a"/>
<text x="227.2" y="312.3" font-family="Liberation Sans" font-size="11" text-anchor="middle" fill="#222" >2.5</text>
<line x1="276" y1="295.3" x2="276" y2="291.1" stroke="#8a8a8a"/>
<line x1="276" y1="7.5" x2="276" y2="11.7" stroke="#8a8a8a"/>
<text x="276" y="312.3" font-family="Liberation Sans" font-size="11" text-anchor="middle" fill="#222" >3</text>
<line x1="324.8" y1="295.3" x2="324.8" y2="291.1" stroke="#8a8a8a"/>
<line x1="324.8" y1="7.5" x2="324.8" y2="11.7" stroke="#8a8a8a"/>
<text x="324.8" y="312.3" font-family="Liberation Sans" font-size="11" text-anchor="middle" fill="#222" >3.5</text>
<line x1="373.5" y1="295.3" x2="373.5" y2="291.1" stroke="#8a8a8a"/>
<line x1="373.5" y1="7.5" x2="373.5" y2="11.7" stroke="#8a8a8a"/>
<text x="373.5" y="312.3" font-family="Liberation Sans" font-size="11" text-anchor="middle" fill="#222" >4</text>
<line x1="422.2" y1="295.3" x2="422.2" y2="291.1" stroke="#8a8a8a"/>
<line x1="422.2" y1="7.5" x2="422.2" y2="11.7" stroke="#8a8a8a"/>
<text x="422.2" y="312.3" font-family="Liberation Sans" font-size="11" text-anchor="middle" fill="#222" >4.5</text>
<line x1="471" y1="295.3" x2="471" y2="291.1" stroke="#8a8a8a"/>
<line x1="471" y1="7.5" x2="471" y2="11.7" stroke="#8a8a8a"/>
<text x="471" y="312.3" font-family="Liberation Sans" font-size="11" text-anchor="middle" fill="#222" >5</text>
<line x1="519.8" y1="295.3" x2="519.8" y2="291.1" stroke="#8a8a8a"/>
<line x1="519.8" y1="7.5" x2="519.8" y2="11.7" stroke="#8a8a8a"/>
<text x="519.8" y="312.3" font-family="Liberation Sans" font-size="11" text-anchor="middle" fill="#222" >5.5</text>
<line x1="568.5" y1="295.3" x2="568.5" y2="291.1" stroke="#8a8a8a"/>
<line x1="568.5" y1="7.5" x2="568.5" y2="11.7" stroke="#8a8a8a"/>
<text x="568.5" y="312.3" font-family="Liberation Sans" font-size="11" text-anchor="middle" fill="#222" >6</text>
<line x1="178.5" y1="7.3" x2="182.7" y2="7.3" stroke="#8a8a8a"/>
<line x1="568.5" y1="7.3" x2="564.3" y2="7.3" stroke="#8a8a8a"/>
<text x="172.8" y="12.3" font-family="Liberation Sans" font-size="11.5" text-anchor="end" fill="#222" >125</text>
<line x1="178.5" y1="43.3" x2="182.7" y2="43.3" stroke="#8a8a8a"/>
<line x1="568.5" y1="43.3" x2="564.3" y2="43.3" stroke="#8a8a8a"/>
<text x="172.8" y="48.3" font-family="Liberation Sans" font-size="11.5" text-anchor="end" fill="#222" >100</text>
<line x1="178.5" y1="79.3" x2="182.7" y2="79.3" stroke="#8a8a8a"/>
<line x1="568.5" y1="79.3" x2="564.3" y2="79.3" stroke="#8a8a8a"/>
<text x="172.8" y="84.3" font-family="Liberation Sans" font-size="11.5" text-anchor="end" fill="#222" >75</text>
<line x1="178.5" y1="115.3" x2="182.7" y2="115.3" stroke="#8a8a8a"/>
<line x1="568.5" y1="115.3" x2="564.3" y2="115.3" stroke="#8a8a8a"/>
<text x="172.8" y="120.3" font-family="Liberation Sans" font-size="11.5" text-anchor="end" fill="#222" >50</text>
<line x1="178.5" y1="151.3" x2="182.7" y2="151.3" stroke="#8a8a8a"/>
<line x1="568.5" y1="151.3" x2="564.3" y2="151.3" stroke="#8a8a8a"/>
<text x="172.8" y="156.3" font-family="Liberation Sans" font-size="11.5" text-anchor="end" fill="#222" >25</text>
<line x1="178.5" y1="187.3" x2="182.7" y2="187.3" stroke="#8a8a8a"/>
<line x1="568.5" y1="187.3" x2="564.3" y2="187.3" stroke="#8a8a8a"/>
<text x="172.8" y="192.3" font-family="Liberation Sans" font-size="11.5" text-anchor="end" fill="#222" >0</text>
<line x1="178.5" y1="223.3" x2="182.7" y2="223.3" stroke="#8a8a8a"/>
<line x1="568.5" y1="223.3" x2="564.3" y2="223.3" stroke="#8a8a8a"/>
<text x="172.8" y="228.3" font-family="Liberation Sans" font-size="11.5" text-anchor="end" fill="#222" >-25</text>
<line x1="178.5" y1="259.3" x2="182.7" y2="259.3" stroke="#8a8a8a"/>
<line x1="568.5" y1="259.3" x2="564.3" y2="259.3" stroke="#8a8a8a"/>
<text x="172.8" y="264.3" font-family="Liberation Sans" font-size="11.5" text-anchor="end" fill="#222" >-50</text>
<line x1="178.5" y1="295.3" x2="182.7" y2="295.3" stroke="#8a8a8a"/>
<line x1="568.5" y1="295.3" x2="564.3" y2="295.3" stroke="#8a8a8a"/>
<text x="172.8" y="300.3" font-family="Liberation Sans" font-size="11.5" text-anchor="end" fill="#222" >-75</text>
<text x="374" y="328.5" font-family="Liberation Sans" font-size="13" text-anchor="middle" fill="#222" >Frequency (GHz)</text>
<g transform="translate(141.2,174) rotate(-90)" fill="#222"><text x="0" y="0" font-family="Liberation Sans" font-size="12.5">Z</text><text x="10.2" y="6" font-family="Liberation Sans" font-size="7.6">11</text><text x="26.4" y="0" font-family="Liberation Serif" font-size="12.5" textLength="16.2" lengthAdjust="spacingAndGlyphs">(&#937;)</text></g>
<text x="351.5" y="357" font-family="Liberation Serif" font-size="20" text-anchor="middle" fill="#111">(<tspan font-weight="bold">a</tspan>)</text>
<rect x="264.3" y="228.4" width="101.39999999999998" height="62.099999999999994" fill="#fff" stroke="#555" stroke-width="0.9"/>
<text x="276.8" y="240.5" font-family="Liberation Serif" font-style="italic" font-size="9" fill="#222">W<tspan font-size="5.5" dy="2.6">cut</tspan></text>
<text x="317" y="241" font-family="Liberation Sans" font-size="9" text-anchor="middle" fill="#222" >Real</text>
<text x="349" y="241" font-family="Liberation Sans" font-size="9" text-anchor="middle" fill="#222" >Imag</text>
<text x="268.6" y="254.1" font-family="Liberation Sans" font-size="9" text-anchor="start" fill="#222" >3.7 mm</text>
<line x1="304" y1="251.3" x2="329.7" y2="251.3" stroke="#E64B22" stroke-width="1.3"/>
<line x1="336.8" y1="251.3" x2="363.1" y2="251.3" stroke="#E64B22" stroke-width="1.3" stroke-dasharray="5.3,5,5.7,5,5.3"/>
<circle cx="317" cy="251.3" r="3" fill="#E64B22" stroke="none"/>
<circle cx="350" cy="251.3" r="3" fill="#E64B22" stroke="none"/>
<text x="268.6" y="265.1" font-family="Liberation Sans" font-size="9" text-anchor="start" fill="#222" >4.2 mm</text>
<line x1="304" y1="262.4" x2="329.7" y2="262.4" stroke="#5FB432" stroke-width="1.3"/>
<line x1="336.8" y1="262.4" x2="363.1" y2="262.4" stroke="#5FB432" stroke-width="1.3" stroke-dasharray="5.3,5,5.7,5,5.3"/>
<rect x="314.5" y="259.9" width="5" height="5" fill="none" stroke="#5FB432" stroke-width="1.2"/>
<rect x="347.5" y="259.9" width="5" height="5" fill="none" stroke="#5FB432" stroke-width="1.2"/>
<text x="268.6" y="275.7" font-family="Liberation Sans" font-size="9" text-anchor="start" fill="#222" >4.7 mm</text>
<line x1="304" y1="273.5" x2="329.7" y2="273.5" stroke="#4EC0F0" stroke-width="1.3"/>
<line x1="336.8" y1="273.5" x2="363.1" y2="273.5" stroke="#4EC0F0" stroke-width="1.3" stroke-dasharray="5.3,5,5.7,5,5.3"/>
<path d="M314,273.5 L320,273.5 M317,270.5 L317,276.5" stroke="#4EC0F0" stroke-width="1.1" fill="none"/>
<path d="M347,273.5 L353,273.5 M350,270.5 L350,276.5" stroke="#4EC0F0" stroke-width="1.1" fill="none"/>
<text x="268.6" y="286.4" font-family="Liberation Sans" font-size="9" text-anchor="start" fill="#222" >5.2 mm</text>
<line x1="304" y1="284.2" x2="329.7" y2="284.2" stroke="#7A2F94" stroke-width="1.3"/>
<line x1="336.8" y1="284.2" x2="363.1" y2="284.2" stroke="#7A2F94" stroke-width="1.3" stroke-dasharray="5.3,5,5.7,5,5.3"/>
<polygon points="317,281.4 316.4,283.1 314.6,282.8 315.8,284.2 314.6,285.6 316.4,285.3 317,286.9 317.6,285.3 319.4,285.6 318.2,284.2 319.4,282.8 317.6,283.1" fill="#7A2F94" stroke="#7A2F94" stroke-width="0.6"/>
<polygon points="350,281.4 349.4,283.1 347.6,282.8 348.8,284.2 347.6,285.6 349.4,285.3 350,286.9 350.6,285.3 352.4,285.6 351.2,284.2 352.4,282.8 350.6,283.1" fill="#7A2F94" stroke="#7A2F94" stroke-width="0.6"/>
</g>
<g id="pb">
<line x1="68.8" y1="391.1" x2="68.8" y2="588.3" stroke="#efefef" stroke-width="1" stroke-dasharray="8,3"/>
<line x1="102.2" y1="391.1" x2="102.2" y2="588.3" stroke="#efefef" stroke-width="1" stroke-dasharray="8,3"/>
<line x1="135.5" y1="391.1" x2="135.5" y2="588.3" stroke="#efefef" stroke-width="1" stroke-dasharray="8,3"/>
<line x1="168.9" y1="391.1" x2="168.9" y2="588.3" stroke="#efefef" stroke-width="1" stroke-dasharray="8,3"/>
<line x1="202.3" y1="391.1" x2="202.3" y2="588.3" stroke="#efefef" stroke-width="1" stroke-dasharray="8,3"/>
<line x1="235.7" y1="391.1" x2="235.7" y2="588.3" stroke="#efefef" stroke-width="1" stroke-dasharray="8,3"/>
<line x1="269" y1="391.1" x2="269" y2="588.3" stroke="#efefef" stroke-width="1" stroke-dasharray="8,3"/>
<line x1="35.4" y1="424" x2="302.4" y2="424" stroke="#efefef" stroke-width="1" stroke-dasharray="8,3"/>
<line x1="35.4" y1="456.8" x2="302.4" y2="456.8" stroke="#efefef" stroke-width="1" stroke-dasharray="8,3"/>
<line x1="35.4" y1="489.7" x2="302.4" y2="489.7" stroke="#efefef" stroke-width="1" stroke-dasharray="8,3"/>
<line x1="35.4" y1="522.6" x2="302.4" y2="522.6" stroke="#efefef" stroke-width="1" stroke-dasharray="8,3"/>
<line x1="35.4" y1="555.4" x2="302.4" y2="555.4" stroke="#efefef" stroke-width="1" stroke-dasharray="8,3"/>
<path clip-path="url(#clipb)" d="M35.4,499.6 L36.1,495.1 L36.7,490.6 L37.4,486.3 L38.1,482.1 L38.7,478.1 L39.4,474.2 L40.1,470.6 L40.8,467.1 L41.4,463.9 L42.1,460.9 L42.8,458.2 L43.4,455.8 L44.1,453.7 L44.8,451.9 L45.4,450.5 L46.1,449.3 L46.8,448.2 L47.4,447 L48.1,446 L48.8,444.9 L49.5,444 L50.1,443.1 L50.8,442.3 L51.5,441.6 L52.1,440.9 L52.8,440.4 L53.5,440 L54.1,439.7 L54.8,439.5 L55.5,439.4 L56.1,439.4 L56.8,439.5 L57.5,439.7 L58.2,439.8 L58.8,440 L59.5,440.3 L60.2,440.6 L60.8,440.9 L61.5,441.2 L62.2,441.6 L62.8,442 L63.5,442.4 L64.2,442.9 L64.8,443.3 L65.5,443.8 L66.2,444.3 L66.9,444.7 L67.5,445.3 L68.2,445.9 L68.9,446.6 L69.5,447.5 L70.2,448.4 L70.9,449.3 L71.5,450.4 L72.2,451.4 L72.9,452.6 L73.5,453.7 L74.2,454.9 L74.9,456.1 L75.6,457.4 L76.2,458.6 L76.9,459.8 L77.6,461.1 L78.2,462.3 L78.9,463.6 L79.6,465 L80.2,466.4 L80.9,468 L81.6,469.6 L82.2,471.2 L82.9,472.9 L83.6,474.5 L84.2,476.2 L84.9,477.7 L85.6,479.3 L86.3,480.7 L86.9,482 L87.6,483.3 L88.3,484.3 L88.9,485.3 L89.6,486.2 L90.3,487.1 L90.9,488 L91.6,488.8 L92.3,489.6 L92.9,490.2 L93.6,490.7 L94.3,490.9 L95,491 L95.6,490.9 L96.3,490.6 L97,490.1 L97.6,489.6 L98.3,489.1 L99,488.5 L99.6,488 L100.3,487.3 L101,486.6 L101.6,485.8 L102.3,485 L103,484 L103.7,483.1 L104.3,482.1 L105,481.1 L105.7,480.1 L106.3,479.1 L107,478.1 L107.7,477.2 L108.3,476.2 L109,475.3 L109.7,474.5 L110.3,473.7 L111,472.9 L111.7,472.1 L112.4,471.3 L113,470.5 L113.7,469.7 L114.4,468.9 L115,468.1 L115.7,467.3 L116.4,466.6 L117,465.9 L117.7,465.3 L118.4,464.7 L119,464.1 L119.7,463.7 L120.4,463.3 L121.1,463 L121.7,462.7 L122.4,462.4 L123.1,462.1 L123.7,461.9 L124.4,461.6 L125.1,461.4 L125.7,461.2 L126.4,460.9 L127.1,460.8 L127.7,460.6 L128.4,460.4 L129.1,460.3 L129.8,460.2 L130.4,460.2 L131.1,460.1 L131.8,460.1 L132.4,460.1 L133.1,460.2 L133.8,460.2 L134.4,460.3 L135.1,460.4 L135.8,460.5 L136.4,460.5 L137.1,460.6 L137.8,460.8 L138.5,460.9 L139.1,461 L139.8,461.1 L140.5,461.2 L141.1,461.3 L141.8,461.4 L142.5,461.5 L143.1,461.6 L143.8,461.7 L144.5,461.8 L145.1,461.9 L145.8,462 L146.5,462.1 L147.2,462.2 L147.8,462.3 L148.5,462.4 L149.2,462.5 L149.8,462.6 L150.5,462.6 L151.2,462.7 L151.8,462.7 L152.5,462.7 L153.2,462.7 L153.8,462.7 L154.5,462.7 L155.2,462.6 L155.9,462.5 L156.5,462.3 L157.2,462.2 L157.9,462 L158.5,461.8 L159.2,461.6 L159.9,461.4 L160.5,461.2 L161.2,461 L161.9,460.7 L162.5,460.5 L163.2,460.2 L163.9,460 L164.6,459.7 L165.2,459.4 L165.9,459 L166.6,458.6 L167.2,458.1 L167.9,457.7 L168.6,457.2 L169.2,456.7 L169.9,456.2 L170.6,455.7 L171.2,455.1 L171.9,454.6 L172.6,454.1 L173.2,453.6 L173.9,453.1 L174.6,452.6 L175.3,452.2 L175.9,451.7 L176.6,451.2 L177.3,450.7 L177.9,450.2 L178.6,449.7 L179.3,449.2 L179.9,448.7 L180.6,448.2 L181.3,447.7 L181.9,447.2 L182.6,446.8 L183.3,446.3 L184,445.9 L184.6,445.5 L185.3,445.1 L186,444.8 L186.6,444.4 L187.3,444.1 L188,443.7 L188.6,443.4 L189.3,443.1 L190,442.8 L190.6,442.5 L191.3,442.2 L192,441.9 L192.7,441.6 L193.3,441.3 L194,441.1 L194.7,440.8 L195.3,440.5 L196,440.2 L196.7,440 L197.3,439.7 L198,439.5 L198.7,439.2 L199.3,439 L200,438.7 L200.7,438.5 L201.4,438.2 L202,438 L202.7,437.8 L203.4,437.5 L204,437.3 L204.7,437 L205.4,436.8 L206,436.5 L206.7,436.3 L207.4,436 L208,435.8 L208.7,435.5 L209.4,435.3 L210.1,435 L210.7,434.8 L211.4,434.5 L212.1,434.3 L212.7,434 L213.4,433.7 L214.1,433.4 L214.7,433.2 L215.4,432.9 L216.1,432.6 L216.7,432.3 L217.4,432 L218.1,431.7 L218.8,431.4 L219.4,431.1 L220.1,430.8 L220.8,430.5 L221.4,430.1 L222.1,429.8 L222.8,429.5 L223.4,429.1 L224.1,428.8 L224.8,428.4 L225.4,428.1 L226.1,427.7 L226.8,427.4 L227.5,427 L228.1,426.6 L228.8,426.2 L229.5,425.8 L230.1,425.5 L230.8,425.1 L231.5,424.6 L232.1,424.2 L232.8,423.8 L233.5,423.4 L234.1,423 L234.8,422.5 L235.5,422.1 L236.2,421.7 L236.8,421.2 L237.5,420.8 L238.2,420.3 L238.8,419.9 L239.5,419.4 L240.2,418.9 L240.8,418.3 L241.5,417.8 L242.2,417.3 L242.8,416.7 L243.5,416.2 L244.2,415.7 L244.9,415.2 L245.5,414.7 L246.2,414.2 L246.9,413.7 L247.5,413.3 L248.2,412.9 L248.9,412.5 L249.5,412.1 L250.2,411.7 L250.9,411.3 L251.5,411 L252.2,410.6 L252.9,410.2 L253.6,409.9 L254.2,409.6 L254.9,409.2 L255.6,408.9 L256.2,408.6 L256.9,408.3 L257.6,408 L258.2,407.7 L258.9,407.5 L259.6,407.2 L260.2,407 L260.9,406.8 L261.6,406.5 L262.2,406.2 L262.9,406 L263.6,405.8 L264.3,405.5 L264.9,405.3 L265.6,405.1 L266.3,404.9 L266.9,404.7 L267.6,404.5 L268.3,404.4 L268.9,404.3 L269.6,404.3 L270.3,404.2 L270.9,404.2 L271.6,404.2 L272.3,404.2 L273,404.2 L273.6,404.2 L274.3,404.2 L275,404.2 L275.6,404.2 L276.3,404.2 L277,404.2 L277.6,404.2 L278.3,404.2 L279,404.2 L279.6,404.2 L280.3,404.2 L281,404.2 L281.7,404.3 L282.3,404.3 L283,404.4 L283.7,404.4 L284.3,404.5 L285,404.7 L285.7,404.8 L286.3,404.9 L287,405 L287.7,405.1 L288.3,405.3 L289,405.4 L289.7,405.4 L290.4,405.5 L291,405.5 L291.7,405.6 L292.4,405.6 L293,405.6 L293.7,405.6 L294.4,405.6 L295,405.6 L295.7,405.6 L296.4,405.6 L297,405.6 L297.7,405.6 L298.4,405.6 L299.1,405.6 L299.7,405.6 L300.4,405.6 L301.1,405.6 L301.7,405.6 L302.4,405.6" fill="none" stroke="#E64B22" stroke-width="1.3"/>
<circle cx="35.4" cy="499.6" r="3.3" fill="#E64B22" stroke="none"/>
<circle cx="46.1" cy="449.4" r="3.3" fill="#E64B22" stroke="none"/>
<circle cx="56.8" cy="439.5" r="3.3" fill="#E64B22" stroke="none"/>
<circle cx="67.4" cy="445.2" r="3.3" fill="#E64B22" stroke="none"/>
<circle cx="78.1" cy="462.1" r="3.3" fill="#E64B22" stroke="none"/>
<circle cx="88.8" cy="485.1" r="3.3" fill="#E64B22" stroke="none"/>
<circle cx="99.5" cy="488.1" r="3.3" fill="#E64B22" stroke="none"/>
<circle cx="110.2" cy="473.9" r="3.3" fill="#E64B22" stroke="none"/>
<circle cx="120.8" cy="463.1" r="3.3" fill="#E64B22" stroke="none"/>
<circle cx="131.5" cy="460.1" r="3.3" fill="#E64B22" stroke="none"/>
<circle cx="142.2" cy="461.4" r="3.3" fill="#E64B22" stroke="none"/>
<circle cx="152.9" cy="462.7" r="3.3" fill="#E64B22" stroke="none"/>
<circle cx="163.6" cy="460.1" r="3.3" fill="#E64B22" stroke="none"/>
<circle cx="174.2" cy="452.9" r="3.3" fill="#E64B22" stroke="none"/>
<circle cx="184.9" cy="445.3" r="3.3" fill="#E64B22" stroke="none"/>
<circle cx="195.6" cy="440.4" r="3.3" fill="#E64B22" stroke="none"/>
<circle cx="206.3" cy="436.5" r="3.3" fill="#E64B22" stroke="none"/>
<circle cx="217" cy="432.2" r="3.3" fill="#E64B22" stroke="none"/>
<circle cx="227.6" cy="426.9" r="3.3" fill="#E64B22" stroke="none"/>
<circle cx="238.3" cy="420.2" r="3.3" fill="#E64B22" stroke="none"/>
<circle cx="249" cy="412.4" r="3.3" fill="#E64B22" stroke="none"/>
<circle cx="259.7" cy="407.2" r="3.3" fill="#E64B22" stroke="none"/>
<circle cx="270.4" cy="404.2" r="3.3" fill="#E64B22" stroke="none"/>
<circle cx="281" cy="404.2" r="3.3" fill="#E64B22" stroke="none"/>
<circle cx="291.7" cy="405.6" r="3.3" fill="#E64B22" stroke="none"/>
<circle cx="302.4" cy="405.6" r="3.3" fill="#E64B22" stroke="none"/>
<path clip-path="url(#clipb)" d="M35.4,499.6 L36.1,495.2 L36.7,490.9 L37.4,486.8 L38.1,482.8 L38.7,479 L39.4,475.4 L40.1,472 L40.8,468.8 L41.4,465.9 L42.1,463.3 L42.8,460.9 L43.4,458.4 L44.1,455.9 L44.8,453.4 L45.4,451 L46.1,448.7 L46.8,446.6 L47.4,444.6 L48.1,442.8 L48.8,441.3 L49.5,440.1 L50.1,439.2 L50.8,438.6 L51.5,438.4 L52.1,438.4 L52.8,438.5 L53.5,438.5 L54.1,438.6 L54.8,438.7 L55.5,438.8 L56.1,439 L56.8,439.1 L57.5,439.3 L58.2,439.5 L58.8,439.8 L59.5,440.1 L60.2,440.5 L60.8,440.9 L61.5,441.4 L62.2,441.9 L62.8,442.5 L63.5,443.1 L64.2,443.7 L64.8,444.3 L65.5,445 L66.2,445.7 L66.9,446.4 L67.5,447.2 L68.2,448.1 L68.9,449.1 L69.5,450.2 L70.2,451.4 L70.9,452.7 L71.5,454 L72.2,455.5 L72.9,457 L73.5,458.6 L74.2,460.2 L74.9,461.9 L75.6,463.7 L76.2,465.7 L76.9,468 L77.6,470.6 L78.2,473.4 L78.9,476.2 L79.6,479.2 L80.2,482.1 L80.9,484.9 L81.6,487.5 L82.2,489.9 L82.9,492 L83.6,494.1 L84.2,496.2 L84.9,498.3 L85.6,500.5 L86.3,502.6 L86.9,504.7 L87.6,506.6 L88.3,508.5 L88.9,510.2 L89.6,511.7 L90.3,513 L90.9,514 L91.6,514.8 L92.3,515.2 L92.9,515.3 L93.6,515.1 L94.3,514.5 L95,513.7 L95.6,512.7 L96.3,511.5 L97,510.3 L97.6,508.9 L98.3,507.6 L99,506.4 L99.6,505.2 L100.3,504 L101,502.7 L101.6,501.3 L102.3,499.8 L103,498.3 L103.7,496.8 L104.3,495.4 L105,494 L105.7,492.7 L106.3,491.5 L107,490.4 L107.7,489.5 L108.3,488.6 L109,487.8 L109.7,487 L110.3,486.2 L111,485.5 L111.7,484.8 L112.4,484.1 L113,483.5 L113.7,483 L114.4,482.5 L115,482.1 L115.7,481.7 L116.4,481.4 L117,481 L117.7,480.7 L118.4,480.3 L119,480 L119.7,479.7 L120.4,479.4 L121.1,479.1 L121.7,478.8 L122.4,478.6 L123.1,478.3 L123.7,478.1 L124.4,477.8 L125.1,477.6 L125.7,477.4 L126.4,477.2 L127.1,477.1 L127.7,476.9 L128.4,476.8 L129.1,476.7 L129.8,476.6 L130.4,476.6 L131.1,476.6 L131.8,476.5 L132.4,476.6 L133.1,476.6 L133.8,476.6 L134.4,476.7 L135.1,476.7 L135.8,476.8 L136.4,476.8 L137.1,476.9 L137.8,477 L138.5,477.1 L139.1,477.2 L139.8,477.2 L140.5,477.3 L141.1,477.4 L141.8,477.5 L142.5,477.6 L143.1,477.6 L143.8,477.7 L144.5,477.7 L145.1,477.8 L145.8,477.8 L146.5,477.8 L147.2,477.9 L147.8,477.9 L148.5,477.9 L149.2,477.8 L149.8,477.8 L150.5,477.8 L151.2,477.8 L151.8,477.8 L152.5,477.7 L153.2,477.7 L153.8,477.6 L154.5,477.6 L155.2,477.5 L155.9,477.5 L156.5,477.4 L157.2,477.3 L157.9,477.3 L158.5,477.2 L159.2,477.1 L159.9,477 L160.5,477 L161.2,476.9 L161.9,476.8 L162.5,476.7 L163.2,476.6 L163.9,476.5 L164.6,476.3 L165.2,476.1 L165.9,475.8 L166.6,475.5 L167.2,475.1 L167.9,474.7 L168.6,474.3 L169.2,473.8 L169.9,473.3 L170.6,472.7 L171.2,472.1 L171.9,471.6 L172.6,470.9 L173.2,470.3 L173.9,469.7 L174.6,469.1 L175.3,468.5 L175.9,467.8 L176.6,467.2 L177.3,466.6 L177.9,466 L178.6,465.5 L179.3,465 L179.9,464.4 L180.6,463.9 L181.3,463.4 L181.9,462.8 L182.6,462.2 L183.3,461.7 L184,461.1 L184.6,460.5 L185.3,459.9 L186,459.3 L186.6,458.7 L187.3,458.2 L188,457.6 L188.6,457 L189.3,456.5 L190,455.9 L190.6,455.4 L191.3,454.9 L192,454.4 L192.7,453.9 L193.3,453.5 L194,453.1 L194.7,452.7 L195.3,452.4 L196,452 L196.7,451.7 L197.3,451.5 L198,451.2 L198.7,450.9 L199.3,450.7 L200,450.5 L200.7,450.2 L201.4,450 L202,449.8 L202.7,449.6 L203.4,449.4 L204,449.2 L204.7,449 L205.4,448.8 L206,448.6 L206.7,448.4 L207.4,448.2 L208,448 L208.7,447.8 L209.4,447.5 L210.1,447.3 L210.7,447.1 L211.4,446.8 L212.1,446.5 L212.7,446.3 L213.4,446 L214.1,445.8 L214.7,445.5 L215.4,445.3 L216.1,445 L216.7,444.7 L217.4,444.5 L218.1,444.2 L218.8,443.9 L219.4,443.6 L220.1,443.3 L220.8,443 L221.4,442.7 L222.1,442.4 L222.8,442.1 L223.4,441.7 L224.1,441.4 L224.8,441 L225.4,440.6 L226.1,440.3 L226.8,439.9 L227.5,439.4 L228.1,439 L228.8,438.4 L229.5,437.9 L230.1,437.3 L230.8,436.7 L231.5,436 L232.1,435.3 L232.8,434.6 L233.5,433.9 L234.1,433.1 L234.8,432.4 L235.5,431.6 L236.2,430.9 L236.8,430.1 L237.5,429.4 L238.2,428.7 L238.8,427.9 L239.5,427.2 L240.2,426.5 L240.8,425.9 L241.5,425.2 L242.2,424.6 L242.8,424.1 L243.5,423.6 L244.2,423 L244.9,422.5 L245.5,422 L246.2,421.5 L246.9,421 L247.5,420.5 L248.2,420 L248.9,419.5 L249.5,419 L250.2,418.6 L250.9,418.1 L251.5,417.6 L252.2,417.2 L252.9,416.7 L253.6,416.3 L254.2,415.9 L254.9,415.5 L255.6,415.1 L256.2,414.7 L256.9,414.3 L257.6,413.9 L258.2,413.5 L258.9,413.2 L259.6,412.8 L260.2,412.5 L260.9,412.1 L261.6,411.8 L262.2,411.4 L262.9,411 L263.6,410.7 L264.3,410.3 L264.9,409.9 L265.6,409.6 L266.3,409.2 L266.9,408.9 L267.6,408.5 L268.3,408.2 L268.9,407.9 L269.6,407.6 L270.3,407.3 L270.9,407.1 L271.6,406.9 L272.3,406.7 L273,406.5 L273.6,406.4 L274.3,406.3 L275,406.2 L275.6,406.2 L276.3,406.2 L277,406.2 L277.6,406.2 L278.3,406.2 L279,406.2 L279.6,406.2 L280.3,406.2 L281,406.2 L281.7,406.2 L282.3,406.2 L283,406.2 L283.7,406.2 L284.3,406.2 L285,406.2 L285.7,406.2 L286.3,406.2 L287,406.2 L287.7,406.2 L288.3,406.2 L289,406.2 L289.7,406.2 L290.4,406.2 L291,406.2 L291.7,406.2 L292.4,406.2 L293,406.2 L293.7,406.3 L294.4,406.3 L295,406.3 L295.7,406.3 L296.4,406.4 L297,406.4 L297.7,406.5 L298.4,406.5 L299.1,406.6 L299.7,406.6 L300.4,406.7 L301.1,406.8 L301.7,406.8 L302.4,406.9" fill="none" stroke="#5FB432" stroke-width="1.3"/>
<rect x="32.9" y="497.1" width="5" height="5" fill="none" stroke="#5FB432" stroke-width="1.2"/>
<rect x="48.9" y="435.9" width="5" height="5" fill="none" stroke="#5FB432" stroke-width="1.2"/>
<rect x="64.9" y="444.6" width="5" height="5" fill="none" stroke="#5FB432" stroke-width="1.2"/>
<rect x="81" y="491.2" width="5" height="5" fill="none" stroke="#5FB432" stroke-width="1.2"/>
<rect x="97" y="503" width="5" height="5" fill="none" stroke="#5FB432" stroke-width="1.2"/>
<rect x="113" y="479.3" width="5" height="5" fill="none" stroke="#5FB432" stroke-width="1.2"/>
<rect x="129" y="474" width="5" height="5" fill="none" stroke="#5FB432" stroke-width="1.2"/>
<rect x="145" y="475.4" width="5" height="5" fill="none" stroke="#5FB432" stroke-width="1.2"/>
<rect x="161.1" y="474" width="5" height="5" fill="none" stroke="#5FB432" stroke-width="1.2"/>
<rect x="177.1" y="462.2" width="5" height="5" fill="none" stroke="#5FB432" stroke-width="1.2"/>
<rect x="193.1" y="449.7" width="5" height="5" fill="none" stroke="#5FB432" stroke-width="1.2"/>
<rect x="209.1" y="444.2" width="5" height="5" fill="none" stroke="#5FB432" stroke-width="1.2"/>
<rect x="225.1" y="436.8" width="5" height="5" fill="none" stroke="#5FB432" stroke-width="1.2"/>
<rect x="241.2" y="420.9" width="5" height="5" fill="none" stroke="#5FB432" stroke-width="1.2"/>
<rect x="257.2" y="410.3" width="5" height="5" fill="none" stroke="#5FB432" stroke-width="1.2"/>
<rect x="273.2" y="403.7" width="5" height="5" fill="none" stroke="#5FB432" stroke-width="1.2"/>
<rect x="289.2" y="403.7" width="5" height="5" fill="none" stroke="#5FB432" stroke-width="1.2"/>
<path clip-path="url(#clipb)" d="M35.4,488.4 L36.1,484.2 L36.7,480.1 L37.4,476.3 L38.1,472.6 L38.7,469.1 L39.4,466 L40.1,463.1 L40.8,460.6 L41.4,458.5 L42.1,456.8 L42.8,455.3 L43.4,453.9 L44.1,452.7 L44.8,451.5 L45.4,450.4 L46.1,449.4 L46.8,448.6 L47.4,447.9 L48.1,447.4 L48.8,447 L49.5,446.6 L50.1,446.3 L50.8,446 L51.5,445.8 L52.1,445.6 L52.8,445.4 L53.5,445.2 L54.1,445.1 L54.8,445 L55.5,445 L56.1,445 L56.8,445.1 L57.5,445.3 L58.2,445.5 L58.8,445.8 L59.5,446.1 L60.2,446.5 L60.8,446.8 L61.5,447.2 L62.2,447.7 L62.8,448.2 L63.5,449 L64.2,449.9 L64.8,451 L65.5,452.2 L66.2,453.5 L66.9,454.8 L67.5,456.2 L68.2,457.6 L68.9,459 L69.5,460.3 L70.2,461.8 L70.9,463.3 L71.5,464.8 L72.2,466.4 L72.9,468 L73.5,469.7 L74.2,471.5 L74.9,473.3 L75.6,475.2 L76.2,477.2 L76.9,479.2 L77.6,481.3 L78.2,483.5 L78.9,485.9 L79.6,488.5 L80.2,491.3 L80.9,494.2 L81.6,497.4 L82.2,500.6 L82.9,503.9 L83.6,507.3 L84.2,510.7 L84.9,514 L85.6,517.4 L86.3,520.6 L86.9,523.8 L87.6,526.8 L88.3,529.6 L88.9,532.3 L89.6,535.1 L90.3,538.2 L90.9,541.2 L91.6,544.1 L92.3,546.7 L92.9,548.6 L93.6,549.9 L94.3,550.2 L95,549.7 L95.6,548.7 L96.3,547.3 L97,545.6 L97.6,543.6 L98.3,541.5 L99,539.3 L99.6,537.2 L100.3,535.2 L101,533.1 L101.6,530.8 L102.3,528.2 L103,525.6 L103.7,522.8 L104.3,520.1 L105,517.3 L105.7,514.7 L106.3,512.3 L107,510 L107.7,508 L108.3,506.4 L109,505.2 L109.7,504 L110.3,502.9 L111,501.8 L111.7,500.8 L112.4,499.8 L113,498.8 L113.7,497.9 L114.4,497 L115,496.2 L115.7,495.4 L116.4,494.7 L117,494.1 L117.7,493.5 L118.4,493 L119,492.6 L119.7,492.2 L120.4,491.9 L121.1,491.7 L121.7,491.6 L122.4,491.6 L123.1,491.5 L123.7,491.4 L124.4,491.4 L125.1,491.3 L125.7,491.2 L126.4,491.2 L127.1,491.2 L127.7,491.1 L128.4,491.1 L129.1,491.1 L129.8,491 L130.4,491 L131.1,491 L131.8,491 L132.4,491.1 L133.1,491.2 L133.8,491.5 L134.4,491.8 L135.1,492.1 L135.8,492.5 L136.4,492.9 L137.1,493.4 L137.8,493.9 L138.5,494.4 L139.1,494.9 L139.8,495.4 L140.5,495.8 L141.1,496.3 L141.8,496.7 L142.5,497.1 L143.1,497.5 L143.8,497.9 L144.5,498.4 L145.1,498.9 L145.8,499.4 L146.5,499.9 L147.2,500.4 L147.8,500.8 L148.5,501.3 L149.2,501.7 L149.8,502 L150.5,502.3 L151.2,502.6 L151.8,502.7 L152.5,502.8 L153.2,502.8 L153.8,502.8 L154.5,502.7 L155.2,502.6 L155.9,502.4 L156.5,502.2 L157.2,502 L157.9,501.7 L158.5,501.5 L159.2,501.2 L159.9,500.8 L160.5,500.5 L161.2,500.2 L161.9,499.8 L162.5,499.4 L163.2,499.1 L163.9,498.7 L164.6,498.3 L165.2,497.8 L165.9,497.2 L166.6,496.6 L167.2,496 L167.9,495.3 L168.6,494.6 L169.2,493.8 L169.9,493.1 L170.6,492.3 L171.2,491.6 L171.9,490.8 L172.6,490.1 L173.2,489.4 L173.9,488.7 L174.6,488 L175.3,487.4 L175.9,486.7 L176.6,486.1 L177.3,485.4 L177.9,484.7 L178.6,484 L179.3,483.4 L179.9,482.7 L180.6,482.1 L181.3,481.4 L181.9,480.8 L182.6,480.2 L183.3,479.6 L184,479 L184.6,478.4 L185.3,477.9 L186,477.3 L186.6,476.8 L187.3,476.2 L188,475.7 L188.6,475.2 L189.3,474.6 L190,474.1 L190.6,473.6 L191.3,473.1 L192,472.7 L192.7,472.2 L193.3,471.8 L194,471.4 L194.7,471.1 L195.3,470.8 L196,470.5 L196.7,470.2 L197.3,470 L198,469.7 L198.7,469.5 L199.3,469.3 L200,469.2 L200.7,469 L201.4,468.8 L202,468.6 L202.7,468.5 L203.4,468.3 L204,468.1 L204.7,467.9 L205.4,467.7 L206,467.4 L206.7,467.2 L207.4,466.9 L208,466.7 L208.7,466.4 L209.4,466.1 L210.1,465.8 L210.7,465.5 L211.4,465.2 L212.1,464.9 L212.7,464.6 L213.4,464.3 L214.1,463.9 L214.7,463.6 L215.4,463.2 L216.1,462.9 L216.7,462.5 L217.4,462.1 L218.1,461.7 L218.8,461.4 L219.4,461 L220.1,460.5 L220.8,460.1 L221.4,459.7 L222.1,459.2 L222.8,458.8 L223.4,458.3 L224.1,457.8 L224.8,457.3 L225.4,456.8 L226.1,456.2 L226.8,455.7 L227.5,455.1 L228.1,454.4 L228.8,453.8 L229.5,453 L230.1,452.3 L230.8,451.5 L231.5,450.7 L232.1,449.8 L232.8,449 L233.5,448.1 L234.1,447.2 L234.8,446.3 L235.5,445.5 L236.2,444.6 L236.8,443.7 L237.5,442.9 L238.2,442.1 L238.8,441.2 L239.5,440.4 L240.2,439.5 L240.8,438.6 L241.5,437.7 L242.2,436.8 L242.8,435.9 L243.5,435 L244.2,434.2 L244.9,433.3 L245.5,432.5 L246.2,431.6 L246.9,430.9 L247.5,430.1 L248.2,429.4 L248.9,428.7 L249.5,428 L250.2,427.3 L250.9,426.6 L251.5,426 L252.2,425.4 L252.9,424.7 L253.6,424.1 L254.2,423.5 L254.9,422.9 L255.6,422.3 L256.2,421.8 L256.9,421.2 L257.6,420.7 L258.2,420.1 L258.9,419.6 L259.6,419.1 L260.2,418.6 L260.9,418.1 L261.6,417.6 L262.2,417.1 L262.9,416.5 L263.6,416 L264.3,415.5 L264.9,415 L265.6,414.6 L266.3,414.1 L266.9,413.7 L267.6,413.3 L268.3,413 L268.9,412.7 L269.6,412.4 L270.3,412.2 L270.9,412 L271.6,411.8 L272.3,411.6 L273,411.4 L273.6,411.2 L274.3,411.1 L275,410.9 L275.6,410.8 L276.3,410.6 L277,410.5 L277.6,410.4 L278.3,410.3 L279,410.3 L279.6,410.2 L280.3,410.2 L281,410.2 L281.7,410.2 L282.3,410.2 L283,410.2 L283.7,410.2 L284.3,410.2 L285,410.2 L285.7,410.2 L286.3,410.2 L287,410.2 L287.7,410.2 L288.3,410.2 L289,410.2 L289.7,410.2 L290.4,410.2 L291,410.2 L291.7,410.2 L292.4,410.2 L293,410.2 L293.7,410.2 L294.4,410.3 L295,410.3 L295.7,410.4 L296.4,410.5 L297,410.6 L297.7,410.7 L298.4,410.8 L299.1,410.9 L299.7,411 L300.4,411.1 L301.1,411.2 L301.7,411.4 L302.4,411.5" fill="none" stroke="#4EC0F0" stroke-width="1.3"/>
<path d="M32.6,488.4 L38.2,488.4 M35.4,485.6 L35.4,491.2" stroke="#4EC0F0" stroke-width="1.1" fill="none"/>
<path d="M43.3,449.5 L48.9,449.5 M46.1,446.7 L46.1,452.3" stroke="#4EC0F0" stroke-width="1.1" fill="none"/>
<path d="M54,445.1 L59.6,445.1 M56.8,442.3 L56.8,447.9" stroke="#4EC0F0" stroke-width="1.1" fill="none"/>
<path d="M64.6,456.1 L70.2,456.1 M67.4,453.3 L67.4,458.9" stroke="#4EC0F0" stroke-width="1.1" fill="none"/>
<path d="M75.3,483.1 L80.9,483.1 M78.1,480.3 L78.1,485.9" stroke="#4EC0F0" stroke-width="1.1" fill="none"/>
<path d="M86,531.8 L91.6,531.8 M88.8,529 L88.8,534.6" stroke="#4EC0F0" stroke-width="1.1" fill="none"/>
<path d="M96.7,537.7 L102.3,537.7 M99.5,534.9 L99.5,540.5" stroke="#4EC0F0" stroke-width="1.1" fill="none"/>
<path d="M107.4,503.2 L113,503.2 M110.2,500.4 L110.2,506" stroke="#4EC0F0" stroke-width="1.1" fill="none"/>
<path d="M118,491.8 L123.6,491.8 M120.8,489 L120.8,494.6" stroke="#4EC0F0" stroke-width="1.1" fill="none"/>
<path d="M128.7,491 L134.3,491 M131.5,488.2 L131.5,493.8" stroke="#4EC0F0" stroke-width="1.1" fill="none"/>
<path d="M139.4,496.9 L145,496.9 M142.2,494.1 L142.2,499.7" stroke="#4EC0F0" stroke-width="1.1" fill="none"/>
<path d="M150.1,502.8 L155.7,502.8 M152.9,500 L152.9,505.6" stroke="#4EC0F0" stroke-width="1.1" fill="none"/>
<path d="M160.8,498.9 L166.4,498.9 M163.6,496.1 L163.6,501.7" stroke="#4EC0F0" stroke-width="1.1" fill="none"/>
<path d="M171.4,488.4 L177,488.4 M174.2,485.6 L174.2,491.2" stroke="#4EC0F0" stroke-width="1.1" fill="none"/>
<path d="M182.1,478.2 L187.7,478.2 M184.9,475.4 L184.9,481" stroke="#4EC0F0" stroke-width="1.1" fill="none"/>
<path d="M192.8,470.6 L198.4,470.6 M195.6,467.8 L195.6,473.4" stroke="#4EC0F0" stroke-width="1.1" fill="none"/>
<path d="M203.5,467.3 L209.1,467.3 M206.3,464.5 L206.3,470.1" stroke="#4EC0F0" stroke-width="1.1" fill="none"/>
<path d="M214.2,462.4 L219.8,462.4 M217,459.6 L217,465.2" stroke="#4EC0F0" stroke-width="1.1" fill="none"/>
<path d="M224.8,454.9 L230.4,454.9 M227.6,452.1 L227.6,457.7" stroke="#4EC0F0" stroke-width="1.1" fill="none"/>
<path d="M235.5,441.9 L241.1,441.9 M238.3,439.1 L238.3,444.7" stroke="#4EC0F0" stroke-width="1.1" fill="none"/>
<path d="M246.2,428.5 L251.8,428.5 M249,425.7 L249,431.3" stroke="#4EC0F0" stroke-width="1.1" fill="none"/>
<path d="M256.9,419 L262.5,419 M259.7,416.2 L259.7,421.8" stroke="#4EC0F0" stroke-width="1.1" fill="none"/>
<path d="M267.6,412.1 L273.2,412.1 M270.4,409.3 L270.4,414.9" stroke="#4EC0F0" stroke-width="1.1" fill="none"/>
<path d="M278.2,410.2 L283.8,410.2 M281,407.4 L281,413" stroke="#4EC0F0" stroke-width="1.1" fill="none"/>
<path d="M288.9,410.2 L294.5,410.2 M291.7,407.4 L291.7,413" stroke="#4EC0F0" stroke-width="1.1" fill="none"/>
<path d="M299.6,411.5 L305.2,411.5 M302.4,408.7 L302.4,414.3" stroke="#4EC0F0" stroke-width="1.1" fill="none"/>
<path clip-path="url(#clipb)" d="M35.4,493.6 L36.1,488.9 L36.7,484.3 L37.4,479.8 L38.1,475.5 L38.7,471.5 L39.4,467.7 L40.1,464.3 L40.8,461.3 L41.4,458.8 L42.1,456.8 L42.8,455 L43.4,453.3 L44.1,451.7 L44.8,450.1 L45.4,448.6 L46.1,447.2 L46.8,445.9 L47.4,444.7 L48.1,443.6 L48.8,442.7 L49.5,441.9 L50.1,441.2 L50.8,440.8 L51.5,440.5 L52.1,440.4 L52.8,440.4 L53.5,440.6 L54.1,440.8 L54.8,441.1 L55.5,441.4 L56.1,441.8 L56.8,442.3 L57.5,442.7 L58.2,443.2 L58.8,443.7 L59.5,444.3 L60.2,445.1 L60.8,446 L61.5,447 L62.2,448.2 L62.8,449.4 L63.5,450.8 L64.2,452.2 L64.8,453.7 L65.5,455.2 L66.2,456.8 L66.9,458.3 L67.5,460 L68.2,461.7 L68.9,463.6 L69.5,465.6 L70.2,467.7 L70.9,469.9 L71.5,472.2 L72.2,474.6 L72.9,477.2 L73.5,479.9 L74.2,482.8 L74.9,485.7 L75.6,488.9 L76.2,492.3 L76.9,496 L77.6,500 L78.2,504.4 L78.9,509 L79.6,513.9 L80.2,519.1 L80.9,524.5 L81.6,530.1 L82.2,536 L82.9,542.1 L83.6,548.7 L84.2,556.1 L84.9,564.1 L85.6,572.5 L86.3,581.2 L86.9,590.1 L87.6,601.9 L88.3,614.9 L88.9,624.8 L89.6,627.3 L90.3,616 L90.9,598.5 L91.6,586.6 L92.3,579.1 L92.9,572.1 L93.6,565.6 L94.3,559.6 L95,554.2 L95.6,549.2 L96.3,544.6 L97,540.5 L97.6,536.8 L98.3,533.5 L99,530.5 L99.6,527.9 L100.3,525.4 L101,523 L101.6,520.8 L102.3,518.7 L103,516.7 L103.7,514.9 L104.3,513.3 L105,511.8 L105.7,510.5 L106.3,509.5 L107,508.6 L107.7,507.9 L108.3,507.4 L109,506.8 L109.7,506.3 L110.3,505.8 L111,505.4 L111.7,505 L112.4,504.7 L113,504.5 L113.7,504.3 L114.4,504.2 L115,504.2 L115.7,504.2 L116.4,504.2 L117,504.3 L117.7,504.4 L118.4,504.5 L119,504.7 L119.7,504.8 L120.4,505 L121.1,505.2 L121.7,505.4 L122.4,505.7 L123.1,505.9 L123.7,506.2 L124.4,506.5 L125.1,506.8 L125.7,507 L126.4,507.3 L127.1,507.7 L127.7,508 L128.4,508.3 L129.1,508.6 L129.8,508.9 L130.4,509.2 L131.1,509.5 L131.8,509.9 L132.4,510.2 L133.1,510.6 L133.8,511 L134.4,511.5 L135.1,512 L135.8,512.5 L136.4,513.1 L137.1,513.7 L137.8,514.3 L138.5,514.9 L139.1,515.5 L139.8,516.1 L140.5,516.7 L141.1,517.3 L141.8,517.9 L142.5,518.4 L143.1,519 L143.8,519.5 L144.5,520 L145.1,520.5 L145.8,520.9 L146.5,521.4 L147.2,521.7 L147.8,522 L148.5,522.4 L149.2,522.7 L149.8,523 L150.5,523.3 L151.2,523.6 L151.8,523.9 L152.5,524.2 L153.2,524.5 L153.8,524.7 L154.5,524.9 L155.2,525 L155.9,525.1 L156.5,525.2 L157.2,525.2 L157.9,525.1 L158.5,525 L159.2,524.7 L159.9,524.5 L160.5,524.2 L161.2,523.8 L161.9,523.5 L162.5,523.1 L163.2,522.7 L163.9,522.4 L164.6,521.9 L165.2,521.5 L165.9,520.9 L166.6,520.3 L167.2,519.6 L167.9,519 L168.6,518.2 L169.2,517.5 L169.9,516.7 L170.6,515.9 L171.2,515 L171.9,514.2 L172.6,513.3 L173.2,512.5 L173.9,511.7 L174.6,510.8 L175.3,510 L175.9,509.2 L176.6,508.5 L177.3,507.7 L177.9,507 L178.6,506.3 L179.3,505.7 L179.9,505.2 L180.6,504.6 L181.3,504 L181.9,503.4 L182.6,502.7 L183.3,502.1 L184,501.5 L184.6,500.8 L185.3,500.2 L186,499.6 L186.6,499 L187.3,498.4 L188,497.9 L188.6,497.3 L189.3,496.8 L190,496.4 L190.6,495.9 L191.3,495.6 L192,495.2 L192.7,494.9 L193.3,494.7 L194,494.5 L194.7,494.4 L195.3,494.3 L196,494.3 L196.7,494.3 L197.3,494.3 L198,494.3 L198.7,494.4 L199.3,494.4 L200,494.4 L200.7,494.5 L201.4,494.5 L202,494.5 L202.7,494.6 L203.4,494.6 L204,494.7 L204.7,494.7 L205.4,494.8 L206,494.8 L206.7,494.8 L207.4,494.9 L208,494.9 L208.7,494.9 L209.4,494.9 L210.1,494.9 L210.7,495 L211.4,494.9 L212.1,494.9 L212.7,494.8 L213.4,494.6 L214.1,494.4 L214.7,494.2 L215.4,493.9 L216.1,493.6 L216.7,493.3 L217.4,492.9 L218.1,492.5 L218.8,492.1 L219.4,491.6 L220.1,491.1 L220.8,490.6 L221.4,490.1 L222.1,489.5 L222.8,488.9 L223.4,488.3 L224.1,487.7 L224.8,487.1 L225.4,486.5 L226.1,485.9 L226.8,485.3 L227.5,484.6 L228.1,483.8 L228.8,482.9 L229.5,481.9 L230.1,480.8 L230.8,479.6 L231.5,478.3 L232.1,476.9 L232.8,475.5 L233.5,474 L234.1,472.5 L234.8,470.9 L235.5,469.4 L236.2,467.8 L236.8,466.2 L237.5,464.6 L238.2,463 L238.8,461.4 L239.5,459.9 L240.2,458.4 L240.8,457 L241.5,455.7 L242.2,454.4 L242.8,453.1 L243.5,452 L244.2,450.8 L244.9,449.7 L245.5,448.5 L246.2,447.4 L246.9,446.3 L247.5,445.1 L248.2,444 L248.9,442.9 L249.5,441.8 L250.2,440.7 L250.9,439.7 L251.5,438.6 L252.2,437.6 L252.9,436.6 L253.6,435.6 L254.2,434.6 L254.9,433.7 L255.6,432.8 L256.2,431.9 L256.9,431.1 L257.6,430.3 L258.2,429.5 L258.9,428.7 L259.6,428 L260.2,427.3 L260.9,426.6 L261.6,426 L262.2,425.3 L262.9,424.6 L263.6,424 L264.3,423.3 L264.9,422.7 L265.6,422 L266.3,421.4 L266.9,420.8 L267.6,420.2 L268.3,419.7 L268.9,419.1 L269.6,418.6 L270.3,418.1 L270.9,417.7 L271.6,417.3 L272.3,416.9 L273,416.5 L273.6,416.2 L274.3,415.9 L275,415.6 L275.6,415.4 L276.3,415.3 L277,415.1 L277.6,414.9 L278.3,414.8 L279,414.6 L279.6,414.5 L280.3,414.4 L281,414.3 L281.7,414.2 L282.3,414 L283,413.9 L283.7,413.8 L284.3,413.8 L285,413.7 L285.7,413.6 L286.3,413.5 L287,413.4 L287.7,413.3 L288.3,413.2 L289,413.1 L289.7,413.1 L290.4,413 L291,412.9 L291.7,412.8 L292.4,412.7 L293,412.6 L293.7,412.5 L294.4,412.4 L295,412.3 L295.7,412.3 L296.4,412.2 L297,412.1 L297.7,412 L298.4,411.9 L299.1,411.9 L299.7,411.8 L300.4,411.7 L301.1,411.6 L301.7,411.5 L302.4,411.5" fill="none" stroke="#7A2F94" stroke-width="1.3"/>
<polygon points="35.4,490.7 34.7,492.5 32.9,492.2 34.1,493.6 32.9,495.1 34.7,494.8 35.4,496.5 36.1,494.8 37.9,495.1 36.7,493.6 37.9,492.2 36.1,492.5" fill="#7A2F94" stroke="#7A2F94" stroke-width="0.6"/>
<polygon points="51.4,437.6 50.8,439.4 48.9,439 50.1,440.5 48.9,441.9 50.8,441.6 51.4,443.4 52.1,441.6 53.9,441.9 52.7,440.5 53.9,439 52.1,439.4" fill="#7A2F94" stroke="#7A2F94" stroke-width="0.6"/>
<polygon points="67.4,456.9 66.8,458.6 64.9,458.3 66.1,459.8 64.9,461.2 66.8,460.9 67.4,462.7 68.1,460.9 70,461.2 68.7,459.8 70,458.3 68.1,458.6" fill="#7A2F94" stroke="#7A2F94" stroke-width="0.6"/>
<polygon points="83.5,544.6 82.8,546.3 80.9,546 82.2,547.5 80.9,548.9 82.8,548.6 83.5,550.4 84.1,548.6 86,548.9 84.8,547.5 86,546 84.1,546.3" fill="#7A2F94" stroke="#7A2F94" stroke-width="0.6"/>
<polygon points="99.5,525.6 98.8,527.3 97,527 98.2,528.5 97,529.9 98.8,529.6 99.5,531.4 100.1,529.6 102,529.9 100.8,528.5 102,527 100.1,527.3" fill="#7A2F94" stroke="#7A2F94" stroke-width="0.6"/>
<polygon points="115.5,501.3 114.8,503 113,502.7 114.2,504.2 113,505.6 114.8,505.3 115.5,507.1 116.2,505.3 118,505.6 116.8,504.2 118,502.7 116.2,503" fill="#7A2F94" stroke="#7A2F94" stroke-width="0.6"/>
<polygon points="131.5,506.8 130.9,508.6 129,508.3 130.2,509.7 129,511.2 130.9,510.9 131.5,512.6 132.2,510.9 134,511.2 132.8,509.7 134,508.3 132.2,508.6" fill="#7A2F94" stroke="#7A2F94" stroke-width="0.6"/>
<polygon points="147.5,519 146.9,520.8 145,520.5 146.2,521.9 145,523.4 146.9,523 147.5,524.8 148.2,523 150.1,523.4 148.8,521.9 150.1,520.5 148.2,520.8" fill="#7A2F94" stroke="#7A2F94" stroke-width="0.6"/>
<polygon points="163.6,519.7 162.9,521.4 161,521.1 162.3,522.6 161,524 162.9,523.7 163.6,525.5 164.2,523.7 166.1,524 164.9,522.6 166.1,521.1 164.2,521.4" fill="#7A2F94" stroke="#7A2F94" stroke-width="0.6"/>
<polygon points="179.6,502.6 178.9,504.3 177.1,504 178.3,505.5 177.1,506.9 178.9,506.6 179.6,508.4 180.2,506.6 182.1,506.9 180.9,505.5 182.1,504 180.2,504.3" fill="#7A2F94" stroke="#7A2F94" stroke-width="0.6"/>
<polygon points="195.6,491.4 194.9,493.2 193.1,492.8 194.3,494.3 193.1,495.7 194.9,495.4 195.6,497.2 196.3,495.4 198.1,495.7 196.9,494.3 198.1,492.8 196.3,493.2" fill="#7A2F94" stroke="#7A2F94" stroke-width="0.6"/>
<polygon points="211.6,492 211,493.8 209.1,493.5 210.3,494.9 209.1,496.4 211,496.1 211.6,497.8 212.3,496.1 214.1,496.4 212.9,494.9 214.1,493.5 212.3,493.8" fill="#7A2F94" stroke="#7A2F94" stroke-width="0.6"/>
<polygon points="227.6,481.5 227,483.3 225.1,482.9 226.3,484.4 225.1,485.8 227,485.5 227.6,487.3 228.3,485.5 230.2,485.8 228.9,484.4 230.2,482.9 228.3,483.3" fill="#7A2F94" stroke="#7A2F94" stroke-width="0.6"/>
<polygon points="243.7,448.8 243,450.6 241.1,450.3 242.4,451.7 241.1,453.2 243,452.9 243.7,454.6 244.3,452.9 246.2,453.2 245,451.7 246.2,450.3 244.3,450.6" fill="#7A2F94" stroke="#7A2F94" stroke-width="0.6"/>
<polygon points="259.7,425 259,426.8 257.2,426.5 258.4,427.9 257.2,429.4 259,429 259.7,430.8 260.3,429 262.2,429.4 261,427.9 262.2,426.5 260.3,426.8" fill="#7A2F94" stroke="#7A2F94" stroke-width="0.6"/>
<polygon points="275.7,412.5 275,414.3 273.2,414 274.4,415.4 273.2,416.9 275,416.6 275.7,418.3 276.4,416.6 278.2,416.9 277,415.4 278.2,414 276.4,414.3" fill="#7A2F94" stroke="#7A2F94" stroke-width="0.6"/>
<polygon points="291.7,409.9 291.1,411.7 289.2,411.3 290.4,412.8 289.2,414.2 291.1,413.9 291.7,415.7 292.4,413.9 294.2,414.2 293,412.8 294.2,411.3 292.4,411.7" fill="#7A2F94" stroke="#7A2F94" stroke-width="0.6"/>
<rect x="35.4" y="391.1" width="267.0" height="197.19999999999993" fill="none" stroke="#8a8a8a" stroke-width="1"/>
<line x1="35.4" y1="588.3" x2="35.4" y2="585.8" stroke="#8a8a8a"/>
<line x1="35.4" y1="391.1" x2="35.4" y2="393.6" stroke="#8a8a8a"/>
<text x="35.4" y="600.3" font-family="Liberation Sans" font-size="8.2" text-anchor="middle" fill="#222" >2</text>
<line x1="68.8" y1="588.3" x2="68.8" y2="585.8" stroke="#8a8a8a"/>
<line x1="68.8" y1="391.1" x2="68.8" y2="393.6" stroke="#8a8a8a"/>
<text x="68.8" y="600.3" font-family="Liberation Sans" font-size="8.2" text-anchor="middle" fill="#222" >2.5</text>
<line x1="102.2" y1="588.3" x2="102.2" y2="585.8" stroke="#8a8a8a"/>
<line x1="102.2" y1="391.1" x2="102.2" y2="393.6" stroke="#8a8a8a"/>
<text x="102.2" y="600.3" font-family="Liberation Sans" font-size="8.2" text-anchor="middle" fill="#222" >3</text>
<line x1="135.5" y1="588.3" x2="135.5" y2="585.8" stroke="#8a8a8a"/>
<line x1="135.5" y1="391.1" x2="135.5" y2="393.6" stroke="#8a8a8a"/>
<text x="135.5" y="600.3" font-family="Liberation Sans" font-size="8.2" text-anchor="middle" fill="#222" >3.5</text>
<line x1="168.9" y1="588.3" x2="168.9" y2="585.8" stroke="#8a8a8a"/>
<line x1="168.9" y1="391.1" x2="168.9" y2="393.6" stroke="#8a8a8a"/>
<text x="168.9" y="600.3" font-family="Liberation Sans" font-size="8.2" text-anchor="middle" fill="#222" >4</text>
<line x1="202.3" y1="588.3" x2="202.3" y2="585.8" stroke="#8a8a8a"/>
<line x1="202.3" y1="391.1" x2="202.3" y2="393.6" stroke="#8a8a8a"/>
<text x="202.3" y="600.3" font-family="Liberation Sans" font-size="8.2" text-anchor="middle" fill="#222" >4.5</text>
<line x1="235.7" y1="588.3" x2="235.7" y2="585.8" stroke="#8a8a8a"/>
<line x1="235.7" y1="391.1" x2="235.7" y2="393.6" stroke="#8a8a8a"/>
<text x="235.7" y="600.3" font-family="Liberation Sans" font-size="8.2" text-anchor="middle" fill="#222" >5</text>
<line x1="269" y1="588.3" x2="269" y2="585.8" stroke="#8a8a8a"/>
<line x1="269" y1="391.1" x2="269" y2="393.6" stroke="#8a8a8a"/>
<text x="269" y="600.3" font-family="Liberation Sans" font-size="8.2" text-anchor="middle" fill="#222" >5.5</text>
<line x1="302.4" y1="588.3" x2="302.4" y2="585.8" stroke="#8a8a8a"/>
<line x1="302.4" y1="391.1" x2="302.4" y2="393.6" stroke="#8a8a8a"/>
<text x="302.4" y="600.3" font-family="Liberation Sans" font-size="8.2" text-anchor="middle" fill="#222" >6</text>
<line x1="35.4" y1="391.1" x2="37.9" y2="391.1" stroke="#8a8a8a"/>
<line x1="302.4" y1="391.1" x2="299.9" y2="391.1" stroke="#8a8a8a"/>
<text x="31.6" y="394.4" font-family="Liberation Sans" font-size="8.3" text-anchor="end" fill="#222" >0</text>
<line x1="35.4" y1="424" x2="37.9" y2="424" stroke="#8a8a8a"/>
<line x1="302.4" y1="424" x2="299.9" y2="424" stroke="#8a8a8a"/>
<text x="31.6" y="427.3" font-family="Liberation Sans" font-size="8.3" text-anchor="end" fill="#222" >-5</text>
<line x1="35.4" y1="456.8" x2="37.9" y2="456.8" stroke="#8a8a8a"/>
<line x1="302.4" y1="456.8" x2="299.9" y2="456.8" stroke="#8a8a8a"/>
<text x="31.6" y="460.1" font-family="Liberation Sans" font-size="8.3" text-anchor="end" fill="#222" >-10</text>
<line x1="35.4" y1="489.7" x2="37.9" y2="489.7" stroke="#8a8a8a"/>
<line x1="302.4" y1="489.7" x2="299.9" y2="489.7" stroke="#8a8a8a"/>
<text x="31.6" y="493" font-family="Liberation Sans" font-size="8.3" text-anchor="end" fill="#222" >-15</text>
<line x1="35.4" y1="522.6" x2="37.9" y2="522.6" stroke="#8a8a8a"/>
<line x1="302.4" y1="522.6" x2="299.9" y2="522.6" stroke="#8a8a8a"/>
<text x="31.6" y="525.9" font-family="Liberation Sans" font-size="8.3" text-anchor="end" fill="#222" >-20</text>
<line x1="35.4" y1="555.4" x2="37.9" y2="555.4" stroke="#8a8a8a"/>
<line x1="302.4" y1="555.4" x2="299.9" y2="555.4" stroke="#8a8a8a"/>
<text x="31.6" y="558.7" font-family="Liberation Sans" font-size="8.3" text-anchor="end" fill="#222" >-25</text>
<line x1="35.4" y1="588.3" x2="37.9" y2="588.3" stroke="#8a8a8a"/>
<line x1="302.4" y1="588.3" x2="299.9" y2="588.3" stroke="#8a8a8a"/>
<text x="31.6" y="591.6" font-family="Liberation Sans" font-size="8.3" text-anchor="end" fill="#222" >-30</text>
<text x="176" y="612.4" font-family="Liberation Sans" font-size="11.6" text-anchor="middle" fill="#222" >Frequency (GHz)</text>
<g transform="translate(11.2,507.6) rotate(-90)" fill="#222"><text x="0" y="0" font-family="Liberation Sans" font-size="9.5">S</text><text x="7.6" y="4.2" font-family="Liberation Sans" font-size="7">11</text><text x="17.6" y="0" font-family="Liberation Sans" font-size="9.5">(dB)</text></g>
<text x="155" y="640.5" font-family="Liberation Serif" font-size="20" text-anchor="middle" fill="#111">(<tspan font-weight="bold">b</tspan>)</text>
<rect x="207.3" y="520.6" width="90.5" height="63.5" fill="#fff" stroke="#555" stroke-width="0.9"/>
<text x="224.5" y="532.5" font-family="Liberation Serif" font-style="italic" font-size="11.5" fill="#222">W<tspan font-size="6.5" dy="4.8">con</tspan></text>
<text x="268" y="532.6" font-family="Liberation Sans" font-size="10.8" fill="#222">S<tspan font-size="7.2" dy="4.6">11</tspan></text>
<text x="219.8" y="549" font-family="Liberation Sans" font-size="9" text-anchor="start" fill="#222" >3.7 mm</text>
<line x1="261.6" y1="546.3" x2="288" y2="546.3" stroke="#E64B22" stroke-width="1.1"/>
<circle cx="274.9" cy="546.3" r="2.8" fill="#E64B22" stroke="none"/>
<text x="219.8" y="560.1" font-family="Liberation Sans" font-size="9" text-anchor="start" fill="#222" >4.2 mm</text>
<line x1="261.6" y1="557.4" x2="288" y2="557.4" stroke="#5FB432" stroke-width="1.1"/>
<rect x="272.8" y="555.3" width="4.2" height="4.2" fill="none" stroke="#5FB432" stroke-width="1.2"/>
<text x="219.8" y="571.2" font-family="Liberation Sans" font-size="9" text-anchor="start" fill="#222" >4.7 mm</text>
<line x1="261.6" y1="568.8" x2="288" y2="568.8" stroke="#a9dcf6" stroke-width="2.2"/>
<path d="M272.4,568.8 L277.4,568.8 M274.9,566.3 L274.9,571.3" stroke="#4EC0F0" stroke-width="1.1" fill="none"/>
<text x="219.8" y="582.4" font-family="Liberation Sans" font-size="9" text-anchor="start" fill="#222" >5.2 mm</text>
<line x1="261.6" y1="579.8" x2="288" y2="579.8" stroke="#b79bd3" stroke-width="2.2"/>
<polygon points="274.9,577.3 274.3,578.8 272.7,578.5 273.8,579.8 272.7,581 274.3,580.8 274.9,582.3 275.5,580.8 277.1,581 276,579.8 277.1,578.5 275.5,578.8" fill="#7A2F94" stroke="#7A2F94" stroke-width="0.6"/>
</g>
<g id="pc">
<line x1="461.9" y1="390.6" x2="461.9" y2="586.5" stroke="#efefef" stroke-width="1" stroke-dasharray="8,3"/>
<line x1="495.2" y1="390.6" x2="495.2" y2="586.5" stroke="#efefef" stroke-width="1" stroke-dasharray="8,3"/>
<line x1="528.6" y1="390.6" x2="528.6" y2="586.5" stroke="#efefef" stroke-width="1" stroke-dasharray="8,3"/>
<line x1="562" y1="390.6" x2="562" y2="586.5" stroke="#efefef" stroke-width="1" stroke-dasharray="8,3"/>
<line x1="595.4" y1="390.6" x2="595.4" y2="586.5" stroke="#efefef" stroke-width="1" stroke-dasharray="8,3"/>
<line x1="628.8" y1="390.6" x2="628.8" y2="586.5" stroke="#efefef" stroke-width="1" stroke-dasharray="8,3"/>
<line x1="662.1" y1="390.6" x2="662.1" y2="586.5" stroke="#efefef" stroke-width="1" stroke-dasharray="8,3"/>
<line x1="428.5" y1="566.9" x2="695.5" y2="566.9" stroke="#efefef" stroke-width="1" stroke-dasharray="8,3"/>
<line x1="428.5" y1="547.3" x2="695.5" y2="547.3" stroke="#efefef" stroke-width="1" stroke-dasharray="8,3"/>
<line x1="428.5" y1="527.7" x2="695.5" y2="527.7" stroke="#efefef" stroke-width="1" stroke-dasharray="8,3"/>
<line x1="428.5" y1="508.1" x2="695.5" y2="508.1" stroke="#efefef" stroke-width="1" stroke-dasharray="8,3"/>
<line x1="428.5" y1="488.6" x2="695.5" y2="488.6" stroke="#efefef" stroke-width="1" stroke-dasharray="8,3"/>
<line x1="428.5" y1="469" x2="695.5" y2="469" stroke="#efefef" stroke-width="1" stroke-dasharray="8,3"/>
<line x1="428.5" y1="449.4" x2="695.5" y2="449.4" stroke="#efefef" stroke-width="1" stroke-dasharray="8,3"/>
<line x1="428.5" y1="429.8" x2="695.5" y2="429.8" stroke="#efefef" stroke-width="1" stroke-dasharray="8,3"/>
<line x1="428.5" y1="410.2" x2="695.5" y2="410.2" stroke="#efefef" stroke-width="1" stroke-dasharray="8,3"/>
<g clip-path="url(#clipc)">
<path d="M428.5,485.4 L441.9,467.4 L455.2,458.6 L468.6,450.3 L481.9,442.7 L495.2,438.6 L508.6,438 L522,436 L535.3,432.7 L548.6,428.8 L562,426.6 L575.4,427 L588.7,428.2 L602,432.7 L615.4,443.9 L628.8,462.1 L642.1,493.1 L655.5,531.6 L668.8,559.1 L682.1,570.8 L695.5,576.7" fill="none" stroke="#E64B22" stroke-width="1.1"/>
<path d="M428.5,479.5 L441.9,466 L455.2,457.2 L468.6,448.4 L481.9,441.1 L495.2,437.2 L508.6,436.4 L522,433.7 L535.3,429.8 L548.6,425.9 L562,422.5 L575.4,421.6 L588.7,421.4 L602,424.9 L615.4,432.7 L628.8,449.4 L642.1,481.1 L655.5,518.9 L668.8,529.7 L682.1,531.6 L695.5,526.4" fill="none" stroke="#5FB432" stroke-width="1.1"/>
<path d="M428.5,488.2 L441.9,465 L455.2,456.2 L468.6,447.4 L481.9,440.2 L495.2,436.6 L508.6,435.7 L522,431.7 L535.3,427.8 L548.6,423.9 L562,420.6 L575.4,418 L588.7,416.7 L602,419 L615.4,426.6 L628.8,437.6 L642.1,465.6 L655.5,501.1 L668.8,518.3 L682.1,522.4 L695.5,519.1" fill="none" stroke="#4EC0F0" stroke-width="1.1"/>
<path d="M428.5,481.5 L441.9,463.1 L455.2,453.7 L468.6,445.5 L481.9,438.6 L495.2,435.7 L508.6,434.3 L522,428.8 L535.3,425.3 L548.6,421 L562,417.4 L575.4,415.1 L588.7,413.7 L602,415.1 L615.4,419.2 L628.8,431.7 L642.1,456.2 L655.5,488.6 L668.8,506.6 L682.1,511.1 L695.5,512.4" fill="none" stroke="#7A2F94" stroke-width="1.1"/>
<path d="M428.5,341.6 L441.9,384.7 L455.2,403.7 L468.6,445.5 L481.9,485.6 L495.2,514 L508.6,539.7 L522,538.5 L535.3,528.1 L548.6,519.3 L562,517.3 L575.4,524.8 L588.7,544.8 L602,566.9 L615.4,545.8 L628.8,488.6 L642.1,429.2 L655.5,371" fill="none" stroke="#E64B22" stroke-width="1.3" stroke-dasharray="5,3.5"/>
<path d="M428.5,331.8 L441.9,374.9 L455.2,396.5 L468.6,439.6 L481.9,482.7 L495.2,512.1 L508.6,536.5 L522,541.4 L535.3,534 L548.6,527.7 L562,523.8 L575.4,528.7 L588.7,542.4 L602,559.1 L615.4,543.4 L628.8,488.6 L642.1,433.7 L655.5,374.9" fill="none" stroke="#5FB432" stroke-width="1.3" stroke-dasharray="5,3.5"/>
<path d="M428.5,387.7 L435.2,393.5 L451.2,402 L455.2,403.3 L468.6,433.7 L481.9,475.8 L495.2,502.3 L508.6,535.6 L522,547.3 L535.3,542 L548.6,532.6 L562,526.8 L575.4,529.7 L588.7,541.4 L602,555.2 L615.4,541.4 L628.8,488.6 L642.1,437.6 L655.5,378.8" fill="none" stroke="#4EC0F0" stroke-width="1.3" stroke-dasharray="5,3.5"/>
<path d="M428.5,382.8 L435.2,387.7 L441.9,389.6 L448.5,390.6 L455.2,393 L468.6,426.8 L481.9,467.6 L495.2,500.3 L508.6,529.7 L522,547.9 L535.3,547.9 L548.6,537.5 L562,531.3 L575.4,530.7 L588.7,537.5 L602,549.3 L615.4,539.5 L628.8,492.5 L642.1,442.9 L655.5,386.7" fill="none" stroke="#7A2F94" stroke-width="1.3" stroke-dasharray="5,3.5"/>
<circle cx="455.2" cy="458.6" r="2.6" fill="#E64B22" stroke="none"/>
<circle cx="481.9" cy="442.7" r="2.6" fill="#E64B22" stroke="none"/>
<circle cx="508.6" cy="438" r="2.6" fill="#E64B22" stroke="none"/>
<circle cx="535.3" cy="432.7" r="2.6" fill="#E64B22" stroke="none"/>
<circle cx="562" cy="426.6" r="2.6" fill="#E64B22" stroke="none"/>
<circle cx="588.7" cy="428.2" r="2.6" fill="#E64B22" stroke="none"/>
<circle cx="615.4" cy="443.9" r="2.6" fill="#E64B22" stroke="none"/>
<circle cx="642.1" cy="493.1" r="2.6" fill="#E64B22" stroke="none"/>
<circle cx="668.8" cy="559.1" r="2.6" fill="#E64B22" stroke="none"/>
<circle cx="695.5" cy="576.7" r="2.6" fill="#E64B22" stroke="none"/>
<rect x="453" y="455" width="4.4" height="4.4" fill="none" stroke="#5FB432" stroke-width="1.2"/>
<rect x="479.7" y="438.9" width="4.4" height="4.4" fill="none" stroke="#5FB432" stroke-width="1.2"/>
<rect x="506.4" y="434.2" width="4.4" height="4.4" fill="none" stroke="#5FB432" stroke-width="1.2"/>
<rect x="533.1" y="427.6" width="4.4" height="4.4" fill="none" stroke="#5FB432" stroke-width="1.2"/>
<rect x="559.8" y="420.3" width="4.4" height="4.4" fill="none" stroke="#5FB432" stroke-width="1.2"/>
<rect x="586.5" y="419.2" width="4.4" height="4.4" fill="none" stroke="#5FB432" stroke-width="1.2"/>
<rect x="613.2" y="430.5" width="4.4" height="4.4" fill="none" stroke="#5FB432" stroke-width="1.2"/>
<rect x="639.9" y="478.9" width="4.4" height="4.4" fill="none" stroke="#5FB432" stroke-width="1.2"/>
<rect x="666.6" y="527.5" width="4.4" height="4.4" fill="none" stroke="#5FB432" stroke-width="1.2"/>
<rect x="693.3" y="524.2" width="4.4" height="4.4" fill="none" stroke="#5FB432" stroke-width="1.2"/>
<path d="M452.6,456.2 L457.8,456.2 M455.2,453.6 L455.2,458.8" stroke="#4EC0F0" stroke-width="1.1" fill="none"/>
<path d="M479.3,440.2 L484.5,440.2 M481.9,437.6 L481.9,442.8" stroke="#4EC0F0" stroke-width="1.1" fill="none"/>
<path d="M506,435.7 L511.2,435.7 M508.6,433.1 L508.6,438.3" stroke="#4EC0F0" stroke-width="1.1" fill="none"/>
<path d="M532.7,427.8 L537.9,427.8 M535.3,425.2 L535.3,430.4" stroke="#4EC0F0" stroke-width="1.1" fill="none"/>
<path d="M559.4,420.6 L564.6,420.6 M562,418 L562,423.2" stroke="#4EC0F0" stroke-width="1.1" fill="none"/>
<path d="M586.1,416.7 L591.3,416.7 M588.7,414.1 L588.7,419.3" stroke="#4EC0F0" stroke-width="1.1" fill="none"/>
<path d="M612.8,426.6 L618,426.6 M615.4,424 L615.4,429.2" stroke="#4EC0F0" stroke-width="1.1" fill="none"/>
<path d="M639.5,465.6 L644.7,465.6 M642.1,463 L642.1,468.2" stroke="#4EC0F0" stroke-width="1.1" fill="none"/>
<path d="M666.2,518.3 L671.4,518.3 M668.8,515.7 L668.8,520.9" stroke="#4EC0F0" stroke-width="1.1" fill="none"/>
<path d="M692.9,519.1 L698.1,519.1 M695.5,516.5 L695.5,521.7" stroke="#4EC0F0" stroke-width="1.1" fill="none"/>
<polygon points="455.2,450.9 454.6,452.6 452.8,452.3 453.9,453.7 452.8,455.1 454.6,454.8 455.2,456.5 455.8,454.8 457.6,455.1 456.5,453.7 457.6,452.3 455.8,452.6" fill="#7A2F94" stroke="#7A2F94" stroke-width="0.6"/>
<polygon points="481.9,435.8 481.3,437.5 479.5,437.2 480.6,438.6 479.5,440 481.3,439.7 481.9,441.4 482.5,439.7 484.3,440 483.2,438.6 484.3,437.2 482.5,437.5" fill="#7A2F94" stroke="#7A2F94" stroke-width="0.6"/>
<polygon points="508.6,431.5 508,433.2 506.2,432.9 507.3,434.3 506.2,435.7 508,435.4 508.6,437.1 509.2,435.4 511,435.7 509.9,434.3 511,432.9 509.2,433.2" fill="#7A2F94" stroke="#7A2F94" stroke-width="0.6"/>
<polygon points="535.3,422.5 534.7,424.2 532.9,423.9 534,425.3 532.9,426.7 534.7,426.4 535.3,428.1 535.9,426.4 537.7,426.7 536.6,425.3 537.7,423.9 535.9,424.2" fill="#7A2F94" stroke="#7A2F94" stroke-width="0.6"/>
<polygon points="562,414.6 561.4,416.3 559.6,416 560.7,417.4 559.6,418.8 561.4,418.5 562,420.2 562.6,418.5 564.4,418.8 563.3,417.4 564.4,416 562.6,416.3" fill="#7A2F94" stroke="#7A2F94" stroke-width="0.6"/>
<polygon points="588.7,410.9 588.1,412.6 586.3,412.3 587.4,413.7 586.3,415.1 588.1,414.8 588.7,416.5 589.3,414.8 591.1,415.1 590,413.7 591.1,412.3 589.3,412.6" fill="#7A2F94" stroke="#7A2F94" stroke-width="0.6"/>
<polygon points="615.4,416.4 614.8,418.1 613,417.8 614.1,419.2 613,420.6 614.8,420.3 615.4,422 616,420.3 617.8,420.6 616.7,419.2 617.8,417.8 616,418.1" fill="#7A2F94" stroke="#7A2F94" stroke-width="0.6"/>
<polygon points="642.1,453.4 641.5,455.1 639.7,454.8 640.8,456.2 639.7,457.6 641.5,457.3 642.1,459 642.7,457.3 644.5,457.6 643.4,456.2 644.5,454.8 642.7,455.1" fill="#7A2F94" stroke="#7A2F94" stroke-width="0.6"/>
<polygon points="668.8,503.8 668.2,505.5 666.4,505.2 667.5,506.6 666.4,508 668.2,507.7 668.8,509.4 669.4,507.7 671.2,508 670.1,506.6 671.2,505.2 669.4,505.5" fill="#7A2F94" stroke="#7A2F94" stroke-width="0.6"/>
<polygon points="695.5,509.6 694.9,511.4 693.1,511 694.2,512.4 693.1,513.8 694.9,513.5 695.5,515.2 696.1,513.5 697.9,513.8 696.8,512.4 697.9,511 696.1,511.4" fill="#7A2F94" stroke="#7A2F94" stroke-width="0.6"/>
<circle cx="455.2" cy="403.7" r="2.6" fill="#E64B22" stroke="none"/>
<circle cx="481.9" cy="485.6" r="2.6" fill="#E64B22" stroke="none"/>
<circle cx="508.6" cy="539.7" r="2.6" fill="#E64B22" stroke="none"/>
<circle cx="535.3" cy="528.1" r="2.6" fill="#E64B22" stroke="none"/>
<circle cx="562" cy="517.3" r="2.6" fill="#E64B22" stroke="none"/>
<circle cx="588.7" cy="544.8" r="2.6" fill="#E64B22" stroke="none"/>
<circle cx="615.4" cy="545.8" r="2.6" fill="#E64B22" stroke="none"/>
<circle cx="642.1" cy="429.2" r="2.6" fill="#E64B22" stroke="none"/>
<rect x="453" y="394.3" width="4.4" height="4.4" fill="none" stroke="#5FB432" stroke-width="1.2"/>
<rect x="479.7" y="480.5" width="4.4" height="4.4" fill="none" stroke="#5FB432" stroke-width="1.2"/>
<rect x="506.4" y="534.3" width="4.4" height="4.4" fill="none" stroke="#5FB432" stroke-width="1.2"/>
<rect x="533.1" y="531.8" width="4.4" height="4.4" fill="none" stroke="#5FB432" stroke-width="1.2"/>
<rect x="559.8" y="521.6" width="4.4" height="4.4" fill="none" stroke="#5FB432" stroke-width="1.2"/>
<rect x="586.5" y="540.2" width="4.4" height="4.4" fill="none" stroke="#5FB432" stroke-width="1.2"/>
<rect x="613.2" y="541.2" width="4.4" height="4.4" fill="none" stroke="#5FB432" stroke-width="1.2"/>
<rect x="639.9" y="431.5" width="4.4" height="4.4" fill="none" stroke="#5FB432" stroke-width="1.2"/>
<path d="M452.6,403.3 L457.8,403.3 M455.2,400.7 L455.2,405.9" stroke="#4EC0F0" stroke-width="1.1" fill="none"/>
<path d="M479.3,475.8 L484.5,475.8 M481.9,473.2 L481.9,478.4" stroke="#4EC0F0" stroke-width="1.1" fill="none"/>
<path d="M506,535.6 L511.2,535.6 M508.6,533 L508.6,538.2" stroke="#4EC0F0" stroke-width="1.1" fill="none"/>
<path d="M532.7,542 L537.9,542 M535.3,539.4 L535.3,544.6" stroke="#4EC0F0" stroke-width="1.1" fill="none"/>
<path d="M559.4,526.8 L564.6,526.8 M562,524.2 L562,529.4" stroke="#4EC0F0" stroke-width="1.1" fill="none"/>
<path d="M586.1,541.4 L591.3,541.4 M588.7,538.8 L588.7,544" stroke="#4EC0F0" stroke-width="1.1" fill="none"/>
<path d="M612.8,541.4 L618,541.4 M615.4,538.8 L615.4,544" stroke="#4EC0F0" stroke-width="1.1" fill="none"/>
<path d="M639.5,437.6 L644.7,437.6 M642.1,435 L642.1,440.2" stroke="#4EC0F0" stroke-width="1.1" fill="none"/>
<polygon points="455.2,390.2 454.6,391.9 452.8,391.6 453.9,393 452.8,394.4 454.6,394 455.2,395.8 455.8,394 457.6,394.4 456.5,393 457.6,391.6 455.8,391.9" fill="#7A2F94" stroke="#7A2F94" stroke-width="0.6"/>
<polygon points="481.9,464.8 481.3,466.5 479.5,466.2 480.6,467.6 479.5,469 481.3,468.7 481.9,470.4 482.5,468.7 484.3,469 483.2,467.6 484.3,466.2 482.5,466.5" fill="#7A2F94" stroke="#7A2F94" stroke-width="0.6"/>
<polygon points="508.6,526.9 508,528.6 506.2,528.3 507.3,529.7 506.2,531.1 508,530.8 508.6,532.5 509.2,530.8 511,531.1 509.9,529.7 511,528.3 509.2,528.6" fill="#7A2F94" stroke="#7A2F94" stroke-width="0.6"/>
<polygon points="535.3,545.1 534.7,546.8 532.9,546.5 534,547.9 532.9,549.3 534.7,549 535.3,550.7 535.9,549 537.7,549.3 536.6,547.9 537.7,546.5 535.9,546.8" fill="#7A2F94" stroke="#7A2F94" stroke-width="0.6"/>
<polygon points="562,528.5 561.4,530.2 559.6,529.9 560.7,531.3 559.6,532.7 561.4,532.3 562,534.1 562.6,532.3 564.4,532.7 563.3,531.3 564.4,529.9 562.6,530.2" fill="#7A2F94" stroke="#7A2F94" stroke-width="0.6"/>
<polygon points="588.7,534.7 588.1,536.4 586.3,536.1 587.4,537.5 586.3,538.9 588.1,538.6 588.7,540.3 589.3,538.6 591.1,538.9 590,537.5 591.1,536.1 589.3,536.4" fill="#7A2F94" stroke="#7A2F94" stroke-width="0.6"/>
<polygon points="615.4,536.7 614.8,538.4 613,538.1 614.1,539.5 613,540.9 614.8,540.6 615.4,542.3 616,540.6 617.8,540.9 616.7,539.5 617.8,538.1 616,538.4" fill="#7A2F94" stroke="#7A2F94" stroke-width="0.6"/>
<polygon points="642.1,440.1 641.5,441.8 639.7,441.5 640.8,442.9 639.7,444.3 641.5,444 642.1,445.7 642.7,444 644.5,444.3 643.4,442.9 644.5,441.5 642.7,441.8" fill="#7A2F94" stroke="#7A2F94" stroke-width="0.6"/>
</g>
<rect x="428.5" y="390.6" width="267.0" height="195.89999999999998" fill="none" stroke="#8a8a8a" stroke-width="1"/>
<line x1="428.5" y1="586.5" x2="428.5" y2="584.0" stroke="#8a8a8a"/>
<line x1="428.5" y1="390.6" x2="428.5" y2="393.1" stroke="#8a8a8a"/>
<text x="428.5" y="598.1" font-family="Liberation Sans" font-size="8" text-anchor="middle" fill="#222" >2</text>
<line x1="461.9" y1="586.5" x2="461.9" y2="584.0" stroke="#8a8a8a"/>
<line x1="461.9" y1="390.6" x2="461.9" y2="393.1" stroke="#8a8a8a"/>
<text x="461.9" y="598.1" font-family="Liberation Sans" font-size="8" text-anchor="middle" fill="#222" >2.5</text>
<line x1="495.2" y1="586.5" x2="495.2" y2="584.0" stroke="#8a8a8a"/>
<line x1="495.2" y1="390.6" x2="495.2" y2="393.1" stroke="#8a8a8a"/>
<text x="495.2" y="598.1" font-family="Liberation Sans" font-size="8" text-anchor="middle" fill="#222" >3</text>
<line x1="528.6" y1="586.5" x2="528.6" y2="584.0" stroke="#8a8a8a"/>
<line x1="528.6" y1="390.6" x2="528.6" y2="393.1" stroke="#8a8a8a"/>
<text x="528.6" y="598.1" font-family="Liberation Sans" font-size="8" text-anchor="middle" fill="#222" >3.5</text>
<line x1="562" y1="586.5" x2="562" y2="584.0" stroke="#8a8a8a"/>
<line x1="562" y1="390.6" x2="562" y2="393.1" stroke="#8a8a8a"/>
<text x="562" y="598.1" font-family="Liberation Sans" font-size="8" text-anchor="middle" fill="#222" >4</text>
<line x1="595.4" y1="586.5" x2="595.4" y2="584.0" stroke="#8a8a8a"/>
<line x1="595.4" y1="390.6" x2="595.4" y2="393.1" stroke="#8a8a8a"/>
<text x="595.4" y="598.1" font-family="Liberation Sans" font-size="8" text-anchor="middle" fill="#222" >4.5</text>
<line x1="628.8" y1="586.5" x2="628.8" y2="584.0" stroke="#8a8a8a"/>
<line x1="628.8" y1="390.6" x2="628.8" y2="393.1" stroke="#8a8a8a"/>
<text x="628.8" y="598.1" font-family="Liberation Sans" font-size="8" text-anchor="middle" fill="#222" >5</text>
<line x1="662.1" y1="586.5" x2="662.1" y2="584.0" stroke="#8a8a8a"/>
<line x1="662.1" y1="390.6" x2="662.1" y2="393.1" stroke="#8a8a8a"/>
<text x="662.1" y="598.1" font-family="Liberation Sans" font-size="8" text-anchor="middle" fill="#222" >5.5</text>
<line x1="695.5" y1="586.5" x2="695.5" y2="584.0" stroke="#8a8a8a"/>
<line x1="695.5" y1="390.6" x2="695.5" y2="393.1" stroke="#8a8a8a"/>
<text x="695.5" y="598.1" font-family="Liberation Sans" font-size="8" text-anchor="middle" fill="#222" >6</text>
<line x1="428.5" y1="586.5" x2="431.0" y2="586.5" stroke="#8a8a8a"/>
<line x1="695.5" y1="586.5" x2="693.0" y2="586.5" stroke="#8a8a8a"/>
<text x="425.4" y="589.4" font-family="Liberation Sans" font-size="8" text-anchor="end" fill="#222" >1</text>
<text x="698.3" y="589.4" font-family="Liberation Sans" font-size="8" text-anchor="start" fill="#222" >0</text>
<line x1="428.5" y1="566.9" x2="431.0" y2="566.9" stroke="#8a8a8a"/>
<line x1="695.5" y1="566.9" x2="693.0" y2="566.9" stroke="#8a8a8a"/>
<text x="425.4" y="569.8" font-family="Liberation Sans" font-size="8" text-anchor="end" fill="#222" >2</text>
<text x="698.3" y="569.8" font-family="Liberation Sans" font-size="8" text-anchor="start" fill="#222" >1</text>
<line x1="428.5" y1="547.3" x2="431.0" y2="547.3" stroke="#8a8a8a"/>
<line x1="695.5" y1="547.3" x2="693.0" y2="547.3" stroke="#8a8a8a"/>
<text x="425.4" y="550.2" font-family="Liberation Sans" font-size="8" text-anchor="end" fill="#222" >3</text>
<text x="698.3" y="550.2" font-family="Liberation Sans" font-size="8" text-anchor="start" fill="#222" >2</text>
<line x1="428.5" y1="527.7" x2="431.0" y2="527.7" stroke="#8a8a8a"/>
<line x1="695.5" y1="527.7" x2="693.0" y2="527.7" stroke="#8a8a8a"/>
<text x="425.4" y="530.6" font-family="Liberation Sans" font-size="8" text-anchor="end" fill="#222" >4</text>
<text x="698.3" y="530.6" font-family="Liberation Sans" font-size="8" text-anchor="start" fill="#222" >3</text>
<line x1="428.5" y1="508.1" x2="431.0" y2="508.1" stroke="#8a8a8a"/>
<line x1="695.5" y1="508.1" x2="693.0" y2="508.1" stroke="#8a8a8a"/>
<text x="425.4" y="511" font-family="Liberation Sans" font-size="8" text-anchor="end" fill="#222" >5</text>
<text x="698.3" y="511" font-family="Liberation Sans" font-size="8" text-anchor="start" fill="#222" >4</text>
<line x1="428.5" y1="488.6" x2="431.0" y2="488.6" stroke="#8a8a8a"/>
<line x1="695.5" y1="488.6" x2="693.0" y2="488.6" stroke="#8a8a8a"/>
<text x="425.4" y="491.4" font-family="Liberation Sans" font-size="8" text-anchor="end" fill="#222" >6</text>
<text x="698.3" y="491.4" font-family="Liberation Sans" font-size="8" text-anchor="start" fill="#222" >5</text>
<line x1="428.5" y1="469" x2="431.0" y2="469" stroke="#8a8a8a"/>
<line x1="695.5" y1="469" x2="693.0" y2="469" stroke="#8a8a8a"/>
<text x="425.4" y="471.9" font-family="Liberation Sans" font-size="8" text-anchor="end" fill="#222" >7</text>
<text x="698.3" y="471.9" font-family="Liberation Sans" font-size="8" text-anchor="start" fill="#222" >6</text>
<line x1="428.5" y1="449.4" x2="431.0" y2="449.4" stroke="#8a8a8a"/>
<line x1="695.5" y1="449.4" x2="693.0" y2="449.4" stroke="#8a8a8a"/>
<text x="425.4" y="452.3" font-family="Liberation Sans" font-size="8" text-anchor="end" fill="#222" >8</text>
<text x="698.3" y="452.3" font-family="Liberation Sans" font-size="8" text-anchor="start" fill="#222" >7</text>
<line x1="428.5" y1="429.8" x2="431.0" y2="429.8" stroke="#8a8a8a"/>
<line x1="695.5" y1="429.8" x2="693.0" y2="429.8" stroke="#8a8a8a"/>
<text x="425.4" y="432.7" font-family="Liberation Sans" font-size="8" text-anchor="end" fill="#222" >9</text>
<text x="698.3" y="432.7" font-family="Liberation Sans" font-size="8" text-anchor="start" fill="#222" >8</text>
<line x1="428.5" y1="410.2" x2="431.0" y2="410.2" stroke="#8a8a8a"/>
<line x1="695.5" y1="410.2" x2="693.0" y2="410.2" stroke="#8a8a8a"/>
<text x="425.4" y="413.1" font-family="Liberation Sans" font-size="8" text-anchor="end" fill="#222" >10</text>
<text x="698.3" y="413.1" font-family="Liberation Sans" font-size="8" text-anchor="start" fill="#222" >9</text>
<line x1="428.5" y1="390.6" x2="431.0" y2="390.6" stroke="#8a8a8a"/>
<line x1="695.5" y1="390.6" x2="693.0" y2="390.6" stroke="#8a8a8a"/>
<text x="425.4" y="393.5" font-family="Liberation Sans" font-size="8" text-anchor="end" fill="#222" >11</text>
<text x="698.3" y="393.5" font-family="Liberation Sans" font-size="8" text-anchor="start" fill="#222" >10</text>
<text x="580" y="612.2" font-family="Liberation Sans" font-size="13.4" text-anchor="middle" fill="#222" >Frequency (GHz)</text>
<text transform="translate(411.5,487.6) rotate(-90)" font-family="Liberation Sans" font-size="9.2" text-anchor="middle" fill="#222">Gain (dBic)</text>
<text transform="translate(717.5,490.5) rotate(-90)" font-family="Liberation Sans" font-size="8.6" text-anchor="middle" fill="#222">Axial Ratio (dB)</text>
<text x="563.7" y="640.5" font-family="Liberation Serif" font-size="20" text-anchor="middle" fill="#111">(<tspan font-weight="bold">c</tspan>)</text>
<ellipse cx="496.8" cy="436.1" rx="8.9" ry="17.6" fill="none" stroke="#444" stroke-width="0.8" stroke-dasharray="3.5,2"/>
<path d="M496.8,453.7 L496.8,462.6 L491.5,462.6" fill="none" stroke="#333" stroke-width="0.7"/><path d="M489,462.6 L493.5,460.6 L493.5,464.6Z" fill="#222"/>
<ellipse cx="491.3" cy="498.8" rx="17.5" ry="8.4" fill="none" stroke="#444" stroke-width="0.8" stroke-dasharray="3.5,2"/>
<path d="M508.8,498.8 L516.5,498.8" fill="none" stroke="#333" stroke-width="0.7"/><path d="M519.5,498.8 L515,496.8 L515,500.8Z" fill="#222"/>
<rect x="628.5" y="529.2" width="90.2" height="55.8" fill="#fff" stroke="#555" stroke-width="0.9"/>
<text x="637.6" y="538.6" font-family="Liberation Serif" font-style="italic" font-size="8.5" fill="#222">W<tspan font-size="4.8" dy="3">con</tspan></text>
<text x="674.2" y="539.8" font-family="Liberation Sans" font-size="8" text-anchor="middle" fill="#222" >Gain</text>
<text x="703.7" y="539.8" font-family="Liberation Sans" font-size="8" text-anchor="middle" fill="#222" >AR</text>
<text x="631.4" y="551.3" font-family="Liberation Sans" font-size="8" text-anchor="start" fill="#222" >3.7 mm</text>
<line x1="662.7" y1="549.2" x2="685.8" y2="549.2" stroke="#E64B22" stroke-width="1"/>
<line x1="692" y1="549.2" x2="715.4" y2="549.2" stroke="#E64B22" stroke-width="1.1" stroke-dasharray="5,4.2,5,4.2,5"/>
<circle cx="674.1" cy="549.2" r="2.6" fill="#E64B22" stroke="none"/>
<circle cx="703.8" cy="549.2" r="2.6" fill="#E64B22" stroke="none"/>
<text x="631.4" y="561.7" font-family="Liberation Sans" font-size="8" text-anchor="start" fill="#222" >4.2 mm</text>
<line x1="662.7" y1="559.6" x2="685.8" y2="559.6" stroke="#5FB432" stroke-width="1"/>
<line x1="692" y1="559.6" x2="715.4" y2="559.6" stroke="#5FB432" stroke-width="1.1" stroke-dasharray="5,4.2,5,4.2,5"/>
<rect x="671.9" y="557.4" width="4.4" height="4.4" fill="none" stroke="#5FB432" stroke-width="1.2"/>
<rect x="701.6" y="557.4" width="4.4" height="4.4" fill="none" stroke="#5FB432" stroke-width="1.2"/>
<text x="631.4" y="571" font-family="Liberation Sans" font-size="8" text-anchor="start" fill="#222" >4.7 mm</text>
<line x1="662.7" y1="568.9" x2="685.8" y2="568.9" stroke="#4EC0F0" stroke-width="1"/>
<line x1="692" y1="568.9" x2="715.4" y2="568.9" stroke="#4EC0F0" stroke-width="1.1" stroke-dasharray="5,4.2,5,4.2,5"/>
<path d="M671.6,568.9 L676.6,568.9 M674.1,566.4 L674.1,571.4" stroke="#4EC0F0" stroke-width="1.1" fill="none"/>
<path d="M701.3,568.9 L706.3,568.9 M703.8,566.4 L703.8,571.4" stroke="#4EC0F0" stroke-width="1.1" fill="none"/>
<text x="631.4" y="581" font-family="Liberation Sans" font-size="8" text-anchor="start" fill="#222" >5.2 mm</text>
<line x1="662.7" y1="578.9" x2="685.8" y2="578.9" stroke="#7A2F94" stroke-width="1"/>
<line x1="692" y1="578.9" x2="715.4" y2="578.9" stroke="#7A2F94" stroke-width="1.1" stroke-dasharray="5,4.2,5,4.2,5"/>
<polygon points="674.1,576.3 673.5,577.9 671.8,577.6 672.9,578.9 671.8,580.2 673.5,579.9 674.1,581.5 674.7,579.9 676.4,580.2 675.3,578.9 676.4,577.6 674.7,577.9" fill="#7A2F94" stroke="#7A2F94" stroke-width="0.6"/>
<polygon points="703.8,576.3 703.2,577.9 701.5,577.6 702.6,578.9 701.5,580.2 703.2,579.9 703.8,581.5 704.4,579.9 706.1,580.2 705,578.9 706.1,577.6 704.4,577.9" fill="#7A2F94" stroke="#7A2F94" stroke-width="0.6"/>
</g>
</svg>
</body></html>
